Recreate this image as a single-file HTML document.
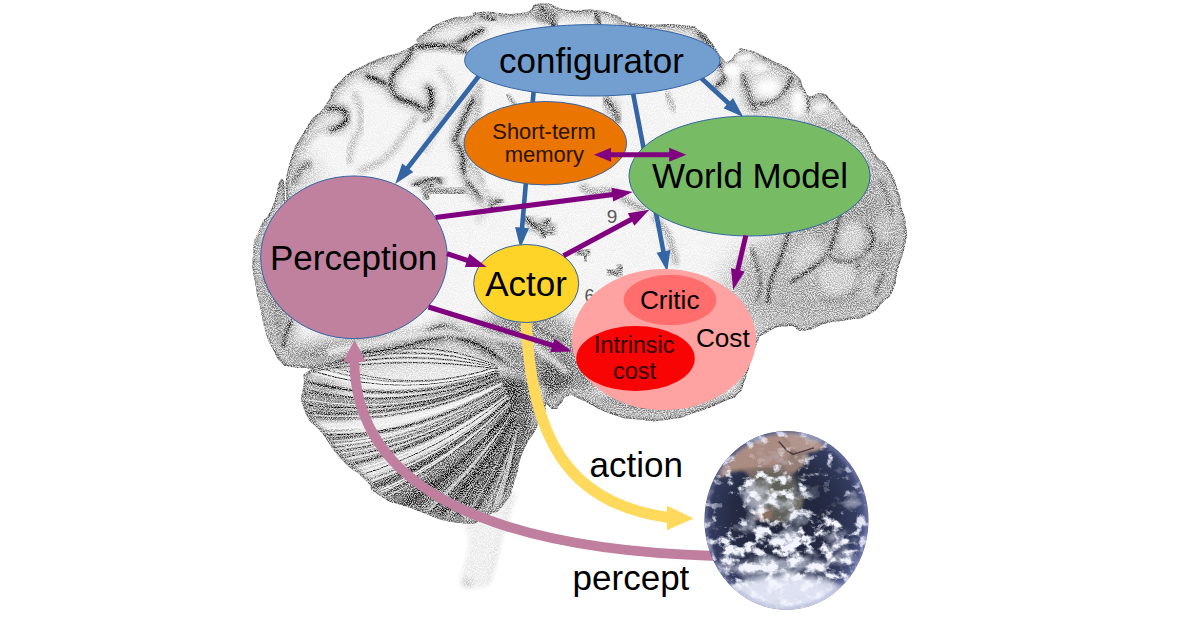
<!DOCTYPE html>
<html>
<head>
<meta charset="utf-8">
<title>Architecture</title>
<style>
html,body{margin:0;padding:0;background:#fff;}
body{width:1192px;height:627px;overflow:hidden;font-family:"Liberation Sans",sans-serif;}
svg{display:block;position:absolute;left:0;top:0;}
text{font-family:"Liberation Sans",sans-serif;}
</style>
</head>
<body>
<svg width="1192" height="627" viewBox="0 0 1192 627">
<defs>
<!--DEFS-->

<filter id="stip" x="0" y="0" width="1192" height="627" filterUnits="userSpaceOnUse" color-interpolation-filters="sRGB">
  <feColorMatrix in="SourceGraphic" type="matrix" values="0 0 0 0 0  0 0 0 0 0  0 0 0 0 0  -1 0 0 0 1" result="dk"/>
  <feTurbulence type="fractalNoise" baseFrequency="0.95" numOctaves="2" seed="7" result="n"/>
  <feColorMatrix in="n" type="matrix" values="0 0 0 0 0  0 0 0 0 0  0 0 0 0 0  3.2 0 0 0 -1.1" result="na"/>
  <feComposite in="dk" in2="na" operator="arithmetic" k1="-1.1" k2="1.45" k3="0" k4="0" result="d"/>
  <feGaussianBlur in="d" stdDeviation="0.45"/>
</filter>
<filter id="b1" x="-20%" y="-20%" width="140%" height="140%"><feGaussianBlur stdDeviation="1"/></filter>
<filter id="b2" x="-20%" y="-20%" width="140%" height="140%"><feGaussianBlur stdDeviation="2"/></filter>
<filter id="b4" x="-30%" y="-30%" width="160%" height="160%"><feGaussianBlur stdDeviation="4"/></filter>
<filter id="b8" x="-40%" y="-40%" width="180%" height="180%"><feGaussianBlur stdDeviation="8"/></filter>
<filter id="b14" x="-50%" y="-50%" width="200%" height="200%"><feGaussianBlur stdDeviation="14"/></filter>
<clipPath id="cpC"><path d="M286.0 200.0C288.5 195.7 282.1 190.1 289.0 166.0C295.9 141.9 294.3 148.0 306.6 127.7C318.9 107.4 315.2 119.9 325.8 105.0C336.4 90.1 324.8 96.7 338.5 83.0C352.2 69.3 343.6 75.7 367.0 64.0C390.4 52.3 390.5 57.7 408.7 48.0C426.9 38.3 408.7 44.3 421.5 35.0C434.3 25.7 431.0 26.3 447.0 20.0C463.0 13.7 458.2 18.7 469.4 16.0C480.6 13.3 463.5 13.0 480.7 12.0C497.9 11.0 500.9 15.9 521.0 13.0C541.1 10.1 525.3 4.4 541.0 3.4C556.7 2.4 550.1 7.8 568.0 10.0C585.9 12.2 579.1 8.3 594.8 10.0C610.5 11.7 601.6 10.5 615.0 15.0C628.4 19.5 612.7 20.2 635.0 23.5C657.3 26.8 660.3 22.5 682.0 25.0C703.7 27.5 690.3 25.3 700.0 31.0C709.7 36.7 703.7 33.0 711.0 42.0C718.3 51.0 716.0 51.7 722.0 58.0C728.0 64.3 724.0 62.7 729.0 61.0C734.0 59.3 731.3 56.8 737.0 53.0C742.7 49.2 734.7 47.2 746.0 49.5C757.3 51.8 755.0 52.2 771.0 60.0C787.0 67.8 783.0 63.5 794.0 73.0C805.0 82.5 799.0 80.8 804.0 88.5C809.0 96.2 803.0 94.3 809.0 96.0C815.0 97.7 814.3 91.9 822.0 93.6C829.7 95.3 823.5 92.5 832.0 101.0C840.5 109.5 837.2 108.0 847.5 119.0C857.8 130.0 853.6 122.0 863.0 134.0C872.4 146.0 867.3 143.8 875.6 155.0C883.9 166.2 880.3 154.8 888.0 167.5C895.7 180.2 894.3 180.3 898.6 193.0C902.9 205.7 898.5 194.5 901.0 205.5C903.5 216.5 904.8 212.5 906.0 226.0C907.2 239.5 907.4 231.7 904.7 246.0C902.0 260.3 901.9 254.3 898.0 269.0C894.1 283.7 898.0 279.0 893.0 290.0C888.0 301.0 891.4 293.7 883.0 302.0C874.6 310.3 879.7 309.0 867.7 315.0C855.7 321.0 860.6 317.3 847.0 320.0C833.4 322.7 841.3 319.5 827.0 323.0C812.7 326.5 816.8 329.5 804.0 330.5C791.2 331.5 801.4 325.2 788.7 326.0C776.0 326.8 776.9 326.3 766.0 333.0C755.1 339.7 763.0 330.3 756.0 346.0C749.0 361.7 751.0 364.0 745.0 380.0C739.0 396.0 744.7 387.0 738.0 394.0C731.3 401.0 738.8 395.0 725.0 401.0C711.2 407.0 715.7 405.8 696.7 412.0C677.7 418.2 687.0 417.0 668.0 419.5C649.0 422.0 658.7 421.4 639.7 419.5C620.7 417.6 630.9 420.5 611.0 413.7C591.1 406.9 594.3 404.9 580.0 399.0C565.7 393.1 574.7 394.3 568.0 396.0C561.3 397.7 564.7 399.7 560.0 404.0C555.3 408.3 559.7 409.0 554.0 409.0C548.3 409.0 549.7 402.3 543.0 404.0C536.3 405.7 541.7 418.0 534.0 414.0C526.3 410.0 541.3 406.0 520.0 392.0C498.7 378.0 503.3 381.0 470.0 372.0C436.7 363.0 453.3 365.0 420.0 365.0C386.7 365.0 400.0 369.7 370.0 372.0C340.0 374.3 349.5 373.1 330.0 372.0C310.5 370.9 324.5 370.3 311.5 368.6C298.5 366.9 301.2 369.1 291.0 366.8C280.8 364.5 287.0 367.6 281.0 361.7C275.0 355.8 278.2 359.2 273.0 349.0C267.8 338.8 269.8 345.5 265.5 331.0C261.2 316.5 263.2 320.0 260.0 305.5C256.8 291.0 258.3 304.1 256.0 287.5C253.7 270.9 251.7 275.5 253.0 255.7C254.3 235.9 253.7 243.9 260.0 228.0C266.3 212.1 264.8 224.3 272.0 208.0C279.2 191.7 276.8 181.7 281.5 179.0C286.2 176.3 283.5 204.3 286.0 200.0Z"/></clipPath>
<clipPath id="cpB"><path d="M311.5 369.0C298.6 377.1 305.6 371.8 303.4 386.0C301.2 400.2 298.6 395.7 305.0 411.7C311.4 427.7 310.4 418.0 322.6 434.0C334.8 450.0 327.9 444.7 341.7 459.6C355.5 474.5 351.2 466.6 364.0 478.7C376.8 490.8 364.0 485.9 380.0 495.8C396.0 505.7 385.4 499.4 412.0 508.5C438.6 517.6 435.1 520.5 459.8 523.0C484.5 525.5 470.9 522.7 486.0 516.0C501.1 509.3 495.3 515.0 505.0 503.0C514.7 491.0 509.0 497.0 515.0 480.0C521.0 463.0 515.7 469.7 523.0 452.0C530.3 434.3 529.3 443.0 537.0 427.0C544.7 411.0 545.0 419.7 546.0 404.0C547.0 388.3 555.3 394.7 540.0 380.0C524.7 365.3 526.8 373.3 500.0 360.0C473.2 346.7 481.5 346.7 459.5 340.0C437.5 333.3 451.0 338.0 434.0 340.0C417.0 342.0 425.5 342.2 408.5 346.0C391.5 349.8 398.3 348.8 383.0 351.5C367.7 354.2 376.2 350.6 362.5 354.0C348.8 357.4 359.0 356.7 342.0 361.7C325.0 366.7 324.4 360.9 311.5 369.0Z"/></clipPath>

<clipPath id="cpE"><ellipse cx="786.5" cy="520.4" rx="82" ry="89.4"/></clipPath>
<radialGradient id="gE" cx="0.47" cy="0.48" r="0.55">
  <stop offset="0" stop-color="#0f1428"/>
  <stop offset="0.55" stop-color="#161c36"/>
  <stop offset="0.82" stop-color="#262e54"/>
  <stop offset="0.95" stop-color="#4a5388"/>
  <stop offset="1" stop-color="#8088ba"/>
</radialGradient>
<filter id="cloud" x="690" y="420" width="200" height="200" filterUnits="userSpaceOnUse" color-interpolation-filters="sRGB">
  <feColorMatrix in="SourceGraphic" type="matrix" values="0 0 0 0 1  0 0 0 0 1  0 0 0 0 1  1 0 0 0 0" result="dk"/>
  <feTurbulence type="fractalNoise" baseFrequency="0.09 0.11" numOctaves="6" seed="23" result="n"/>
  <feColorMatrix in="n" type="matrix" values="0 0 0 0 0  0 0 0 0 0  0 0 0 0 0  2.2 0 0 0 -0.6" result="na"/>
  <feComposite in="dk" in2="na" operator="arithmetic" k1="0" k2="1" k3="-1" k4="0" result="d"/>
  <feColorMatrix in="d" type="matrix" values="0 0 0 0 0.95  0 0 0 0 0.96  0 0 0 0 1  0 0 0 2.0 0.0"/>
</filter>
<filter id="cloudS" x="690" y="420" width="200" height="200" filterUnits="userSpaceOnUse" color-interpolation-filters="sRGB">
  <feColorMatrix in="SourceGraphic" type="matrix" values="0 0 0 0 1  0 0 0 0 1  0 0 0 0 1  1 0 0 0 0" result="dk"/>
  <feTurbulence type="fractalNoise" baseFrequency="0.035 0.045" numOctaves="4" seed="4" result="n"/>
  <feColorMatrix in="n" type="matrix" values="0 0 0 0 0  0 0 0 0 0  0 0 0 0 0  0 2.2 0 0 -0.6" result="na"/>
  <feComposite in="dk" in2="na" operator="arithmetic" k1="0" k2="1" k3="-1" k4="0" result="d"/>
  <feColorMatrix in="d" type="matrix" values="0 0 0 0 0.82  0 0 0 0 0.84  0 0 0 0 0.9  0 0 0 1.6 0.12"/>
</filter>
<filter id="eb05" x="-30%" y="-30%" width="160%" height="160%"><feGaussianBlur stdDeviation="0.6"/></filter>
<filter id="eb1" x="-30%" y="-30%" width="160%" height="160%"><feGaussianBlur stdDeviation="1.5"/></filter>
<filter id="eb3" x="-30%" y="-30%" width="160%" height="160%"><feGaussianBlur stdDeviation="3"/></filter>
<filter id="eb6" x="-40%" y="-40%" width="180%" height="180%"><feGaussianBlur stdDeviation="6"/></filter>

<!--/DEFS-->
</defs>
<rect width="1192" height="627" fill="#fff"/>

<!--BRAIN-->
<g id="brain" filter="url(#stip)">
<rect width="1192" height="627" fill="#fff"/>
<path d="M471.0 515.0C456.5 533.7 471.8 526.0 468.5 547.0C465.2 568.0 461.8 564.3 461.0 578.0C460.2 591.7 460.3 584.8 466.0 588.0C471.7 591.2 470.3 589.2 478.0 587.5C485.7 585.8 482.8 592.2 489.0 583.0C495.2 573.8 492.3 575.3 496.5 560.0C500.7 544.7 497.4 551.5 501.6 537.0C505.8 522.5 505.5 531.8 509.0 516.5C512.5 501.2 524.7 491.5 512.0 491.0C499.3 490.5 485.5 496.3 471.0 515.0Z" fill="#eeeeee" filter="url(#b2)"/>
<path d="M510.0 495.0C509.0 502.3 510.3 502.7 507.0 517.0C503.7 531.3 504.0 523.7 500.0 538.0C496.0 552.3 499.0 545.3 495.0 560.0C491.0 574.7 490.3 574.7 488.0 582.0" fill="none" stroke="#e6e6e6" stroke-width="3" stroke-linecap="round" stroke-linejoin="round" filter="url(#b2)"/>
<ellipse cx="468" cy="582" rx="6" ry="5" fill="#dadada" filter="url(#b2)"/>
<g clip-path="url(#cpC)">
<path d="M286.0 200.0C288.5 195.7 282.1 190.1 289.0 166.0C295.9 141.9 294.3 148.0 306.6 127.7C318.9 107.4 315.2 119.9 325.8 105.0C336.4 90.1 324.8 96.7 338.5 83.0C352.2 69.3 343.6 75.7 367.0 64.0C390.4 52.3 390.5 57.7 408.7 48.0C426.9 38.3 408.7 44.3 421.5 35.0C434.3 25.7 431.0 26.3 447.0 20.0C463.0 13.7 458.2 18.7 469.4 16.0C480.6 13.3 463.5 13.0 480.7 12.0C497.9 11.0 500.9 15.9 521.0 13.0C541.1 10.1 525.3 4.4 541.0 3.4C556.7 2.4 550.1 7.8 568.0 10.0C585.9 12.2 579.1 8.3 594.8 10.0C610.5 11.7 601.6 10.5 615.0 15.0C628.4 19.5 612.7 20.2 635.0 23.5C657.3 26.8 660.3 22.5 682.0 25.0C703.7 27.5 690.3 25.3 700.0 31.0C709.7 36.7 703.7 33.0 711.0 42.0C718.3 51.0 716.0 51.7 722.0 58.0C728.0 64.3 724.0 62.7 729.0 61.0C734.0 59.3 731.3 56.8 737.0 53.0C742.7 49.2 734.7 47.2 746.0 49.5C757.3 51.8 755.0 52.2 771.0 60.0C787.0 67.8 783.0 63.5 794.0 73.0C805.0 82.5 799.0 80.8 804.0 88.5C809.0 96.2 803.0 94.3 809.0 96.0C815.0 97.7 814.3 91.9 822.0 93.6C829.7 95.3 823.5 92.5 832.0 101.0C840.5 109.5 837.2 108.0 847.5 119.0C857.8 130.0 853.6 122.0 863.0 134.0C872.4 146.0 867.3 143.8 875.6 155.0C883.9 166.2 880.3 154.8 888.0 167.5C895.7 180.2 894.3 180.3 898.6 193.0C902.9 205.7 898.5 194.5 901.0 205.5C903.5 216.5 904.8 212.5 906.0 226.0C907.2 239.5 907.4 231.7 904.7 246.0C902.0 260.3 901.9 254.3 898.0 269.0C894.1 283.7 898.0 279.0 893.0 290.0C888.0 301.0 891.4 293.7 883.0 302.0C874.6 310.3 879.7 309.0 867.7 315.0C855.7 321.0 860.6 317.3 847.0 320.0C833.4 322.7 841.3 319.5 827.0 323.0C812.7 326.5 816.8 329.5 804.0 330.5C791.2 331.5 801.4 325.2 788.7 326.0C776.0 326.8 776.9 326.3 766.0 333.0C755.1 339.7 763.0 330.3 756.0 346.0C749.0 361.7 751.0 364.0 745.0 380.0C739.0 396.0 744.7 387.0 738.0 394.0C731.3 401.0 738.8 395.0 725.0 401.0C711.2 407.0 715.7 405.8 696.7 412.0C677.7 418.2 687.0 417.0 668.0 419.5C649.0 422.0 658.7 421.4 639.7 419.5C620.7 417.6 630.9 420.5 611.0 413.7C591.1 406.9 594.3 404.9 580.0 399.0C565.7 393.1 574.7 394.3 568.0 396.0C561.3 397.7 564.7 399.7 560.0 404.0C555.3 408.3 559.7 409.0 554.0 409.0C548.3 409.0 549.7 402.3 543.0 404.0C536.3 405.7 541.7 418.0 534.0 414.0C526.3 410.0 541.3 406.0 520.0 392.0C498.7 378.0 503.3 381.0 470.0 372.0C436.7 363.0 453.3 365.0 420.0 365.0C386.7 365.0 400.0 369.7 370.0 372.0C340.0 374.3 349.5 373.1 330.0 372.0C310.5 370.9 324.5 370.3 311.5 368.6C298.5 366.9 301.2 369.1 291.0 366.8C280.8 364.5 287.0 367.6 281.0 361.7C275.0 355.8 278.2 359.2 273.0 349.0C267.8 338.8 269.8 345.5 265.5 331.0C261.2 316.5 263.2 320.0 260.0 305.5C256.8 291.0 258.3 304.1 256.0 287.5C253.7 270.9 251.7 275.5 253.0 255.7C254.3 235.9 253.7 243.9 260.0 228.0C266.3 212.1 264.8 224.3 272.0 208.0C279.2 191.7 276.8 181.7 281.5 179.0C286.2 176.3 283.5 204.3 286.0 200.0Z" fill="#f3f3f3"/>
<ellipse cx="858" cy="150" rx="50" ry="80" fill="#b5b5b5" filter="url(#b14)" transform="rotate(-25 858 150)"/>
<ellipse cx="850" cy="262" rx="70" ry="75" fill="#9e9e9e" filter="url(#b14)"/>
<ellipse cx="800" cy="290" rx="75" ry="50" fill="#afafaf" filter="url(#b14)"/>
<ellipse cx="785" cy="90" rx="45" ry="35" fill="#cfcfcf" filter="url(#b8)"/>
<ellipse cx="420" cy="380" rx="180" ry="45" fill="#939393" filter="url(#b8)"/>
<ellipse cx="525" cy="365" rx="65" ry="55" fill="#939393" filter="url(#b8)"/>
<ellipse cx="556" cy="385" rx="16" ry="28" fill="#646464" filter="url(#b4)"/>
<ellipse cx="268" cy="320" rx="26" ry="55" fill="#9a9a9a" filter="url(#b8)"/>
<ellipse cx="660" cy="410" rx="110" ry="18" fill="#9a9a9a" filter="url(#b4)"/>
<ellipse cx="300" cy="190" rx="25" ry="40" fill="#dadada" filter="url(#b8)"/>
<path d="M286.0 200.0C288.5 195.7 282.1 190.1 289.0 166.0C295.9 141.9 294.3 148.0 306.6 127.7C318.9 107.4 315.2 119.9 325.8 105.0C336.4 90.1 324.8 96.7 338.5 83.0C352.2 69.3 343.6 75.7 367.0 64.0C390.4 52.3 390.5 57.7 408.7 48.0C426.9 38.3 408.7 44.3 421.5 35.0C434.3 25.7 431.0 26.3 447.0 20.0C463.0 13.7 458.2 18.7 469.4 16.0C480.6 13.3 463.5 13.0 480.7 12.0C497.9 11.0 500.9 15.9 521.0 13.0C541.1 10.1 525.3 4.4 541.0 3.4C556.7 2.4 550.1 7.8 568.0 10.0C585.9 12.2 579.1 8.3 594.8 10.0C610.5 11.7 601.6 10.5 615.0 15.0C628.4 19.5 612.7 20.2 635.0 23.5C657.3 26.8 660.3 22.5 682.0 25.0C703.7 27.5 690.3 25.3 700.0 31.0C709.7 36.7 703.7 33.0 711.0 42.0C718.3 51.0 716.0 51.7 722.0 58.0C728.0 64.3 724.0 62.7 729.0 61.0C734.0 59.3 731.3 56.8 737.0 53.0C742.7 49.2 734.7 47.2 746.0 49.5C757.3 51.8 755.0 52.2 771.0 60.0C787.0 67.8 783.0 63.5 794.0 73.0C805.0 82.5 799.0 80.8 804.0 88.5C809.0 96.2 803.0 94.3 809.0 96.0C815.0 97.7 814.3 91.9 822.0 93.6C829.7 95.3 823.5 92.5 832.0 101.0C840.5 109.5 837.2 108.0 847.5 119.0C857.8 130.0 853.6 122.0 863.0 134.0C872.4 146.0 867.3 143.8 875.6 155.0C883.9 166.2 880.3 154.8 888.0 167.5C895.7 180.2 894.3 180.3 898.6 193.0C902.9 205.7 898.5 194.5 901.0 205.5C903.5 216.5 904.8 212.5 906.0 226.0C907.2 239.5 907.4 231.7 904.7 246.0C902.0 260.3 901.9 254.3 898.0 269.0C894.1 283.7 898.0 279.0 893.0 290.0C888.0 301.0 891.4 293.7 883.0 302.0C874.6 310.3 879.7 309.0 867.7 315.0C855.7 321.0 860.6 317.3 847.0 320.0C833.4 322.7 841.3 319.5 827.0 323.0C812.7 326.5 816.8 329.5 804.0 330.5C791.2 331.5 801.4 325.2 788.7 326.0C776.0 326.8 776.9 326.3 766.0 333.0C755.1 339.7 763.0 330.3 756.0 346.0C749.0 361.7 751.0 364.0 745.0 380.0C739.0 396.0 744.7 387.0 738.0 394.0C731.3 401.0 738.8 395.0 725.0 401.0C711.2 407.0 715.7 405.8 696.7 412.0C677.7 418.2 687.0 417.0 668.0 419.5C649.0 422.0 658.7 421.4 639.7 419.5C620.7 417.6 630.9 420.5 611.0 413.7C591.1 406.9 594.3 404.9 580.0 399.0C565.7 393.1 574.7 394.3 568.0 396.0C561.3 397.7 564.7 399.7 560.0 404.0C555.3 408.3 559.7 409.0 554.0 409.0C548.3 409.0 549.7 402.3 543.0 404.0C536.3 405.7 541.7 418.0 534.0 414.0C526.3 410.0 541.3 406.0 520.0 392.0C498.7 378.0 503.3 381.0 470.0 372.0C436.7 363.0 453.3 365.0 420.0 365.0C386.7 365.0 400.0 369.7 370.0 372.0C340.0 374.3 349.5 373.1 330.0 372.0C310.5 370.9 324.5 370.3 311.5 368.6C298.5 366.9 301.2 369.1 291.0 366.8C280.8 364.5 287.0 367.6 281.0 361.7C275.0 355.8 278.2 359.2 273.0 349.0C267.8 338.8 269.8 345.5 265.5 331.0C261.2 316.5 263.2 320.0 260.0 305.5C256.8 291.0 258.3 304.1 256.0 287.5C253.7 270.9 251.7 275.5 253.0 255.7C254.3 235.9 253.7 243.9 260.0 228.0C266.3 212.1 264.8 224.3 272.0 208.0C279.2 191.7 276.8 181.7 281.5 179.0C286.2 176.3 283.5 204.3 286.0 200.0Z" fill="none" stroke="#c0c0c0" stroke-width="16" stroke-linecap="round" stroke-linejoin="round" filter="url(#b4)"/>
<path d="M286.0 200.0C288.5 195.7 282.1 190.1 289.0 166.0C295.9 141.9 294.3 148.0 306.6 127.7C318.9 107.4 315.2 119.9 325.8 105.0C336.4 90.1 324.8 96.7 338.5 83.0C352.2 69.3 343.6 75.7 367.0 64.0C390.4 52.3 390.5 57.7 408.7 48.0C426.9 38.3 408.7 44.3 421.5 35.0C434.3 25.7 431.0 26.3 447.0 20.0C463.0 13.7 458.2 18.7 469.4 16.0C480.6 13.3 463.5 13.0 480.7 12.0C497.9 11.0 500.9 15.9 521.0 13.0C541.1 10.1 525.3 4.4 541.0 3.4C556.7 2.4 550.1 7.8 568.0 10.0C585.9 12.2 579.1 8.3 594.8 10.0C610.5 11.7 601.6 10.5 615.0 15.0C628.4 19.5 612.7 20.2 635.0 23.5C657.3 26.8 660.3 22.5 682.0 25.0C703.7 27.5 690.3 25.3 700.0 31.0C709.7 36.7 703.7 33.0 711.0 42.0C718.3 51.0 716.0 51.7 722.0 58.0C728.0 64.3 724.0 62.7 729.0 61.0C734.0 59.3 731.3 56.8 737.0 53.0C742.7 49.2 734.7 47.2 746.0 49.5C757.3 51.8 755.0 52.2 771.0 60.0C787.0 67.8 783.0 63.5 794.0 73.0C805.0 82.5 799.0 80.8 804.0 88.5C809.0 96.2 803.0 94.3 809.0 96.0C815.0 97.7 814.3 91.9 822.0 93.6C829.7 95.3 823.5 92.5 832.0 101.0C840.5 109.5 837.2 108.0 847.5 119.0C857.8 130.0 853.6 122.0 863.0 134.0C872.4 146.0 867.3 143.8 875.6 155.0C883.9 166.2 880.3 154.8 888.0 167.5C895.7 180.2 894.3 180.3 898.6 193.0C902.9 205.7 898.5 194.5 901.0 205.5C903.5 216.5 904.8 212.5 906.0 226.0C907.2 239.5 907.4 231.7 904.7 246.0C902.0 260.3 901.9 254.3 898.0 269.0C894.1 283.7 898.0 279.0 893.0 290.0C888.0 301.0 891.4 293.7 883.0 302.0C874.6 310.3 879.7 309.0 867.7 315.0C855.7 321.0 860.6 317.3 847.0 320.0C833.4 322.7 841.3 319.5 827.0 323.0C812.7 326.5 816.8 329.5 804.0 330.5C791.2 331.5 801.4 325.2 788.7 326.0C776.0 326.8 776.9 326.3 766.0 333.0C755.1 339.7 763.0 330.3 756.0 346.0C749.0 361.7 751.0 364.0 745.0 380.0C739.0 396.0 744.7 387.0 738.0 394.0C731.3 401.0 738.8 395.0 725.0 401.0C711.2 407.0 715.7 405.8 696.7 412.0C677.7 418.2 687.0 417.0 668.0 419.5C649.0 422.0 658.7 421.4 639.7 419.5C620.7 417.6 630.9 420.5 611.0 413.7C591.1 406.9 594.3 404.9 580.0 399.0C565.7 393.1 574.7 394.3 568.0 396.0C561.3 397.7 564.7 399.7 560.0 404.0C555.3 408.3 559.7 409.0 554.0 409.0C548.3 409.0 549.7 402.3 543.0 404.0C536.3 405.7 541.7 418.0 534.0 414.0C526.3 410.0 541.3 406.0 520.0 392.0C498.7 378.0 503.3 381.0 470.0 372.0C436.7 363.0 453.3 365.0 420.0 365.0C386.7 365.0 400.0 369.7 370.0 372.0C340.0 374.3 349.5 373.1 330.0 372.0C310.5 370.9 324.5 370.3 311.5 368.6C298.5 366.9 301.2 369.1 291.0 366.8C280.8 364.5 287.0 367.6 281.0 361.7C275.0 355.8 278.2 359.2 273.0 349.0C267.8 338.8 269.8 345.5 265.5 331.0C261.2 316.5 263.2 320.0 260.0 305.5C256.8 291.0 258.3 304.1 256.0 287.5C253.7 270.9 251.7 275.5 253.0 255.7C254.3 235.9 253.7 243.9 260.0 228.0C266.3 212.1 264.8 224.3 272.0 208.0C279.2 191.7 276.8 181.7 281.5 179.0C286.2 176.3 283.5 204.3 286.0 200.0Z" fill="none" stroke="#a4a4a4" stroke-width="6" stroke-linecap="round" stroke-linejoin="round" filter="url(#b2)"/>
<path d="M286.0 200.0C288.5 195.7 282.1 190.1 289.0 166.0C295.9 141.9 294.3 148.0 306.6 127.7C318.9 107.4 315.2 119.9 325.8 105.0C336.4 90.1 324.8 96.7 338.5 83.0C352.2 69.3 343.6 75.7 367.0 64.0C390.4 52.3 390.5 57.7 408.7 48.0C426.9 38.3 408.7 44.3 421.5 35.0C434.3 25.7 431.0 26.3 447.0 20.0C463.0 13.7 458.2 18.7 469.4 16.0C480.6 13.3 463.5 13.0 480.7 12.0C497.9 11.0 500.9 15.9 521.0 13.0C541.1 10.1 525.3 4.4 541.0 3.4C556.7 2.4 550.1 7.8 568.0 10.0C585.9 12.2 579.1 8.3 594.8 10.0C610.5 11.7 601.6 10.5 615.0 15.0C628.4 19.5 612.7 20.2 635.0 23.5C657.3 26.8 660.3 22.5 682.0 25.0C703.7 27.5 690.3 25.3 700.0 31.0C709.7 36.7 703.7 33.0 711.0 42.0C718.3 51.0 716.0 51.7 722.0 58.0C728.0 64.3 724.0 62.7 729.0 61.0C734.0 59.3 731.3 56.8 737.0 53.0C742.7 49.2 734.7 47.2 746.0 49.5C757.3 51.8 755.0 52.2 771.0 60.0C787.0 67.8 783.0 63.5 794.0 73.0C805.0 82.5 799.0 80.8 804.0 88.5C809.0 96.2 803.0 94.3 809.0 96.0C815.0 97.7 814.3 91.9 822.0 93.6C829.7 95.3 823.5 92.5 832.0 101.0C840.5 109.5 837.2 108.0 847.5 119.0C857.8 130.0 853.6 122.0 863.0 134.0C872.4 146.0 867.3 143.8 875.6 155.0C883.9 166.2 880.3 154.8 888.0 167.5C895.7 180.2 894.3 180.3 898.6 193.0C902.9 205.7 898.5 194.5 901.0 205.5C903.5 216.5 904.8 212.5 906.0 226.0C907.2 239.5 907.4 231.7 904.7 246.0C902.0 260.3 901.9 254.3 898.0 269.0C894.1 283.7 898.0 279.0 893.0 290.0C888.0 301.0 891.4 293.7 883.0 302.0C874.6 310.3 879.7 309.0 867.7 315.0C855.7 321.0 860.6 317.3 847.0 320.0C833.4 322.7 841.3 319.5 827.0 323.0C812.7 326.5 816.8 329.5 804.0 330.5C791.2 331.5 801.4 325.2 788.7 326.0C776.0 326.8 776.9 326.3 766.0 333.0C755.1 339.7 763.0 330.3 756.0 346.0C749.0 361.7 751.0 364.0 745.0 380.0C739.0 396.0 744.7 387.0 738.0 394.0C731.3 401.0 738.8 395.0 725.0 401.0C711.2 407.0 715.7 405.8 696.7 412.0C677.7 418.2 687.0 417.0 668.0 419.5C649.0 422.0 658.7 421.4 639.7 419.5C620.7 417.6 630.9 420.5 611.0 413.7C591.1 406.9 594.3 404.9 580.0 399.0C565.7 393.1 574.7 394.3 568.0 396.0C561.3 397.7 564.7 399.7 560.0 404.0C555.3 408.3 559.7 409.0 554.0 409.0C548.3 409.0 549.7 402.3 543.0 404.0C536.3 405.7 541.7 418.0 534.0 414.0C526.3 410.0 541.3 406.0 520.0 392.0C498.7 378.0 503.3 381.0 470.0 372.0C436.7 363.0 453.3 365.0 420.0 365.0C386.7 365.0 400.0 369.7 370.0 372.0C340.0 374.3 349.5 373.1 330.0 372.0C310.5 370.9 324.5 370.3 311.5 368.6C298.5 366.9 301.2 369.1 291.0 366.8C280.8 364.5 287.0 367.6 281.0 361.7C275.0 355.8 278.2 359.2 273.0 349.0C267.8 338.8 269.8 345.5 265.5 331.0C261.2 316.5 263.2 320.0 260.0 305.5C256.8 291.0 258.3 304.1 256.0 287.5C253.7 270.9 251.7 275.5 253.0 255.7C254.3 235.9 253.7 243.9 260.0 228.0C266.3 212.1 264.8 224.3 272.0 208.0C279.2 191.7 276.8 181.7 281.5 179.0C286.2 176.3 283.5 204.3 286.0 200.0Z" fill="none" stroke="#6c6c6c" stroke-width="2.5" stroke-linecap="round" stroke-linejoin="round" filter="url(#b1)"/>
<path d="M412.0 47.0C419.3 46.5 420.7 46.0 434.0 45.5C447.3 45.0 442.0 47.5 452.0 45.5C462.0 43.5 454.0 44.7 464.0 39.5C474.0 34.3 476.0 33.2 482.0 30.0" fill="none" stroke="#c0c0c0" stroke-width="11" stroke-linecap="round" stroke-linejoin="round" filter="url(#b4)"/>
<path d="M412.0 47.0C419.3 46.5 420.7 46.0 434.0 45.5C447.3 45.0 442.0 47.5 452.0 45.5C462.0 43.5 454.0 44.7 464.0 39.5C474.0 34.3 476.0 33.2 482.0 30.0" fill="none" stroke="#939393" stroke-width="6" stroke-linecap="round" stroke-linejoin="round" filter="url(#b2)"/>
<path d="M412.0 47.0C419.3 46.5 420.7 46.0 434.0 45.5C447.3 45.0 442.0 47.5 452.0 45.5C462.0 43.5 454.0 44.7 464.0 39.5C474.0 34.3 476.0 33.2 482.0 30.0" fill="none" stroke="#2c2c2c" stroke-width="3" stroke-linecap="round" stroke-linejoin="round" filter="url(#b1)"/>
<path d="M367.0 76.0C372.0 78.0 374.0 78.0 382.0 82.0C390.0 86.0 386.0 83.0 391.0 88.0C396.0 93.0 390.0 92.0 397.0 97.0C404.0 102.0 401.7 99.0 412.0 103.0C422.3 107.0 421.7 112.0 428.0 109.0C434.3 106.0 431.0 101.0 431.0 94.0C431.0 87.0 429.0 90.0 428.0 88.0" fill="none" stroke="#c0c0c0" stroke-width="11" stroke-linecap="round" stroke-linejoin="round" filter="url(#b4)"/>
<path d="M367.0 76.0C372.0 78.0 374.0 78.0 382.0 82.0C390.0 86.0 386.0 83.0 391.0 88.0C396.0 93.0 390.0 92.0 397.0 97.0C404.0 102.0 401.7 99.0 412.0 103.0C422.3 107.0 421.7 112.0 428.0 109.0C434.3 106.0 431.0 101.0 431.0 94.0C431.0 87.0 429.0 90.0 428.0 88.0" fill="none" stroke="#939393" stroke-width="6" stroke-linecap="round" stroke-linejoin="round" filter="url(#b2)"/>
<path d="M367.0 76.0C372.0 78.0 374.0 78.0 382.0 82.0C390.0 86.0 386.0 83.0 391.0 88.0C396.0 93.0 390.0 92.0 397.0 97.0C404.0 102.0 401.7 99.0 412.0 103.0C422.3 107.0 421.7 112.0 428.0 109.0C434.3 106.0 431.0 101.0 431.0 94.0C431.0 87.0 429.0 90.0 428.0 88.0" fill="none" stroke="#2c2c2c" stroke-width="3" stroke-linecap="round" stroke-linejoin="round" filter="url(#b1)"/>
<path d="M391.0 88.0C392.0 83.0 389.0 82.0 394.0 73.0C399.0 64.0 400.0 69.2 406.0 61.0C412.0 52.8 410.0 52.7 412.0 48.5" fill="none" stroke="#c0c0c0" stroke-width="10.5" stroke-linecap="round" stroke-linejoin="round" filter="url(#b4)"/>
<path d="M391.0 88.0C392.0 83.0 389.0 82.0 394.0 73.0C399.0 64.0 400.0 69.2 406.0 61.0C412.0 52.8 410.0 52.7 412.0 48.5" fill="none" stroke="#939393" stroke-width="5.5" stroke-linecap="round" stroke-linejoin="round" filter="url(#b2)"/>
<path d="M391.0 88.0C392.0 83.0 389.0 82.0 394.0 73.0C399.0 64.0 400.0 69.2 406.0 61.0C412.0 52.8 410.0 52.7 412.0 48.5" fill="none" stroke="#3d3d3d" stroke-width="2.5" stroke-linecap="round" stroke-linejoin="round" filter="url(#b1)"/>
<path d="M328.0 109.0C332.0 109.0 334.0 107.0 340.0 109.0C346.0 111.0 345.0 110.0 346.0 115.0C347.0 120.0 348.0 119.0 343.0 124.0C338.0 129.0 335.0 128.0 331.0 130.0" fill="none" stroke="#c0c0c0" stroke-width="11" stroke-linecap="round" stroke-linejoin="round" filter="url(#b4)"/>
<path d="M328.0 109.0C332.0 109.0 334.0 107.0 340.0 109.0C346.0 111.0 345.0 110.0 346.0 115.0C347.0 120.0 348.0 119.0 343.0 124.0C338.0 129.0 335.0 128.0 331.0 130.0" fill="none" stroke="#939393" stroke-width="6" stroke-linecap="round" stroke-linejoin="round" filter="url(#b2)"/>
<path d="M328.0 109.0C332.0 109.0 334.0 107.0 340.0 109.0C346.0 111.0 345.0 110.0 346.0 115.0C347.0 120.0 348.0 119.0 343.0 124.0C338.0 129.0 335.0 128.0 331.0 130.0" fill="none" stroke="#3d3d3d" stroke-width="3" stroke-linecap="round" stroke-linejoin="round" filter="url(#b1)"/>
<path d="M355.0 94.0C357.0 103.0 362.0 104.0 361.0 121.0C360.0 138.0 356.0 131.7 352.0 145.0C348.0 158.3 350.0 155.7 349.0 161.0" fill="none" stroke="#cacaca" stroke-width="7" stroke-linecap="round" stroke-linejoin="round" filter="url(#b2)"/>
<path d="M415.0 118.0C411.0 124.0 413.0 122.7 403.0 136.0C393.0 149.3 399.0 146.7 385.0 158.0C371.0 169.3 369.0 166.0 361.0 170.0" fill="none" stroke="#cacaca" stroke-width="7" stroke-linecap="round" stroke-linejoin="round" filter="url(#b2)"/>
<path d="M421.0 109.0C424.3 111.0 430.0 111.0 431.0 115.0C432.0 119.0 426.3 119.0 424.0 121.0" fill="none" stroke="#939393" stroke-width="4" stroke-linecap="round" stroke-linejoin="round" filter="url(#b1)"/>
<path d="M479.0 85.0C478.0 97.0 481.0 99.0 476.0 121.0C471.0 143.0 464.0 134.7 464.0 151.0C464.0 167.3 470.0 159.7 476.0 170.0C482.0 180.3 480.0 178.0 482.0 182.0" fill="none" stroke="#bababa" stroke-width="6" stroke-linecap="round" stroke-linejoin="round" filter="url(#b2)"/>
<path d="M415.0 185.0C421.3 183.0 425.7 180.0 434.0 179.0C442.3 178.0 438.0 181.0 440.0 182.0" fill="none" stroke="#c0c0c0" stroke-width="10.5" stroke-linecap="round" stroke-linejoin="round" filter="url(#b4)"/>
<path d="M415.0 185.0C421.3 183.0 425.7 180.0 434.0 179.0C442.3 178.0 438.0 181.0 440.0 182.0" fill="none" stroke="#939393" stroke-width="5.5" stroke-linecap="round" stroke-linejoin="round" filter="url(#b2)"/>
<path d="M415.0 185.0C421.3 183.0 425.7 180.0 434.0 179.0C442.3 178.0 438.0 181.0 440.0 182.0" fill="none" stroke="#3d3d3d" stroke-width="2.5" stroke-linecap="round" stroke-linejoin="round" filter="url(#b1)"/>
<path d="M294.0 182.0C296.0 178.0 295.0 176.0 300.0 170.0C305.0 164.0 306.0 166.0 309.0 164.0" fill="none" stroke="#c0c0c0" stroke-width="11" stroke-linecap="round" stroke-linejoin="round" filter="url(#b4)"/>
<path d="M294.0 182.0C296.0 178.0 295.0 176.0 300.0 170.0C305.0 164.0 306.0 166.0 309.0 164.0" fill="none" stroke="#939393" stroke-width="6" stroke-linecap="round" stroke-linejoin="round" filter="url(#b2)"/>
<path d="M294.0 182.0C296.0 178.0 295.0 176.0 300.0 170.0C305.0 164.0 306.0 166.0 309.0 164.0" fill="none" stroke="#8b8b8b" stroke-width="3" stroke-linecap="round" stroke-linejoin="round" filter="url(#b1)"/>
<path d="M300.0 150.0C306.0 144.0 308.0 139.3 318.0 132.0C328.0 124.7 326.0 129.3 330.0 128.0" fill="none" stroke="#c2c2c2" stroke-width="4" stroke-linecap="round" stroke-linejoin="round" filter="url(#b2)"/>
<path d="M440.0 70.0C444.0 78.3 452.0 78.3 452.0 95.0C452.0 111.7 449.0 101.7 440.0 120.0C431.0 138.3 430.0 140.0 425.0 150.0" fill="none" stroke="#dadada" stroke-width="8" stroke-linecap="round" stroke-linejoin="round" filter="url(#b2)"/>
<path d="M481.0 15.0C485.3 16.7 489.7 18.3 494.0 20.0" fill="none" stroke="#c0c0c0" stroke-width="11" stroke-linecap="round" stroke-linejoin="round" filter="url(#b4)"/>
<path d="M481.0 15.0C485.3 16.7 489.7 18.3 494.0 20.0" fill="none" stroke="#939393" stroke-width="6" stroke-linecap="round" stroke-linejoin="round" filter="url(#b2)"/>
<path d="M481.0 15.0C485.3 16.7 489.7 18.3 494.0 20.0" fill="none" stroke="#646464" stroke-width="3" stroke-linecap="round" stroke-linejoin="round" filter="url(#b1)"/>
<path d="M541.0 8.0C544.3 12.0 546.5 13.7 551.0 20.0C555.5 26.3 553.3 24.7 554.5 27.0" fill="none" stroke="#c0c0c0" stroke-width="11" stroke-linecap="round" stroke-linejoin="round" filter="url(#b4)"/>
<path d="M541.0 8.0C544.3 12.0 546.5 13.7 551.0 20.0C555.5 26.3 553.3 24.7 554.5 27.0" fill="none" stroke="#939393" stroke-width="6" stroke-linecap="round" stroke-linejoin="round" filter="url(#b2)"/>
<path d="M541.0 8.0C544.3 12.0 546.5 13.7 551.0 20.0C555.5 26.3 553.3 24.7 554.5 27.0" fill="none" stroke="#3d3d3d" stroke-width="3" stroke-linecap="round" stroke-linejoin="round" filter="url(#b1)"/>
<ellipse cx="546" cy="16" rx="13" ry="6" fill="#7f7f7f" filter="url(#b2)"/>
<path d="M595.0 13.0C596.7 16.7 598.3 20.3 600.0 24.0" fill="none" stroke="#c0c0c0" stroke-width="11" stroke-linecap="round" stroke-linejoin="round" filter="url(#b4)"/>
<path d="M595.0 13.0C596.7 16.7 598.3 20.3 600.0 24.0" fill="none" stroke="#939393" stroke-width="6" stroke-linecap="round" stroke-linejoin="round" filter="url(#b2)"/>
<path d="M595.0 13.0C596.7 16.7 598.3 20.3 600.0 24.0" fill="none" stroke="#505050" stroke-width="3" stroke-linecap="round" stroke-linejoin="round" filter="url(#b1)"/>
<path d="M628.0 22.0C629.3 23.7 630.7 25.3 632.0 27.0" fill="none" stroke="#c0c0c0" stroke-width="11" stroke-linecap="round" stroke-linejoin="round" filter="url(#b4)"/>
<path d="M628.0 22.0C629.3 23.7 630.7 25.3 632.0 27.0" fill="none" stroke="#939393" stroke-width="6" stroke-linecap="round" stroke-linejoin="round" filter="url(#b2)"/>
<path d="M628.0 22.0C629.3 23.7 630.7 25.3 632.0 27.0" fill="none" stroke="#8b8b8b" stroke-width="3" stroke-linecap="round" stroke-linejoin="round" filter="url(#b1)"/>
<path d="M699.0 33.5C703.3 38.0 706.3 38.8 712.0 47.0C717.7 55.2 712.0 48.7 716.0 58.0C720.0 67.3 723.7 65.7 724.0 75.0C724.3 84.3 719.3 82.3 717.0 86.0" fill="none" stroke="#c0c0c0" stroke-width="11" stroke-linecap="round" stroke-linejoin="round" filter="url(#b4)"/>
<path d="M699.0 33.5C703.3 38.0 706.3 38.8 712.0 47.0C717.7 55.2 712.0 48.7 716.0 58.0C720.0 67.3 723.7 65.7 724.0 75.0C724.3 84.3 719.3 82.3 717.0 86.0" fill="none" stroke="#939393" stroke-width="6" stroke-linecap="round" stroke-linejoin="round" filter="url(#b2)"/>
<path d="M699.0 33.5C703.3 38.0 706.3 38.8 712.0 47.0C717.7 55.2 712.0 48.7 716.0 58.0C720.0 67.3 723.7 65.7 724.0 75.0C724.3 84.3 719.3 82.3 717.0 86.0" fill="none" stroke="#505050" stroke-width="3" stroke-linecap="round" stroke-linejoin="round" filter="url(#b1)"/>
<path d="M739.5 52.8C743.0 55.3 746.5 57.8 750.0 60.3" fill="none" stroke="#c0c0c0" stroke-width="11" stroke-linecap="round" stroke-linejoin="round" filter="url(#b4)"/>
<path d="M739.5 52.8C743.0 55.3 746.5 57.8 750.0 60.3" fill="none" stroke="#939393" stroke-width="6" stroke-linecap="round" stroke-linejoin="round" filter="url(#b2)"/>
<path d="M739.5 52.8C743.0 55.3 746.5 57.8 750.0 60.3" fill="none" stroke="#8b8b8b" stroke-width="3" stroke-linecap="round" stroke-linejoin="round" filter="url(#b1)"/>
<path d="M450.0 45.0C455.0 47.3 460.0 49.7 465.0 52.0" fill="none" stroke="#c0c0c0" stroke-width="11" stroke-linecap="round" stroke-linejoin="round" filter="url(#b4)"/>
<path d="M450.0 45.0C455.0 47.3 460.0 49.7 465.0 52.0" fill="none" stroke="#939393" stroke-width="6" stroke-linecap="round" stroke-linejoin="round" filter="url(#b2)"/>
<path d="M450.0 45.0C455.0 47.3 460.0 49.7 465.0 52.0" fill="none" stroke="#646464" stroke-width="3" stroke-linecap="round" stroke-linejoin="round" filter="url(#b1)"/>
<path d="M475.0 93.0C473.3 98.7 471.7 104.3 470.0 110.0" fill="none" stroke="#b5b5b5" stroke-width="5" stroke-linecap="round" stroke-linejoin="round" filter="url(#b2)"/>
<path d="M508.0 95.6C510.5 98.9 512.9 102.3 515.4 105.6" fill="none" stroke="#a4a4a4" stroke-width="4" stroke-linecap="round" stroke-linejoin="round" filter="url(#b1)"/>
<path d="M611.0 93.0C609.3 98.7 607.7 104.3 606.0 110.0" fill="none" stroke="#b5b5b5" stroke-width="4" stroke-linecap="round" stroke-linejoin="round" filter="url(#b2)"/>
<path d="M666.5 93.0C669.0 98.7 671.5 104.3 674.0 110.0" fill="none" stroke="#a4a4a4" stroke-width="4" stroke-linecap="round" stroke-linejoin="round" filter="url(#b2)"/>
<path d="M455.0 141.0C457.6 146.1 459.4 145.3 462.8 156.3C466.2 167.3 458.6 159.5 465.3 174.0C472.0 188.5 472.8 190.4 483.0 199.7C493.2 209.0 491.7 201.2 496.0 202.0" fill="none" stroke="#c0c0c0" stroke-width="11" stroke-linecap="round" stroke-linejoin="round" filter="url(#b4)"/>
<path d="M455.0 141.0C457.6 146.1 459.4 145.3 462.8 156.3C466.2 167.3 458.6 159.5 465.3 174.0C472.0 188.5 472.8 190.4 483.0 199.7C493.2 209.0 491.7 201.2 496.0 202.0" fill="none" stroke="#939393" stroke-width="6" stroke-linecap="round" stroke-linejoin="round" filter="url(#b2)"/>
<path d="M455.0 141.0C457.6 146.1 459.4 145.3 462.8 156.3C466.2 167.3 458.6 159.5 465.3 174.0C472.0 188.5 472.8 190.4 483.0 199.7C493.2 209.0 491.7 201.2 496.0 202.0" fill="none" stroke="#444444" stroke-width="3" stroke-linecap="round" stroke-linejoin="round" filter="url(#b1)"/>
<path d="M473.0 100.0C470.4 105.2 470.4 104.4 465.3 115.5C460.2 126.6 461.1 124.9 457.7 133.4C454.3 141.9 455.9 138.5 455.0 141.0" fill="none" stroke="#c0c0c0" stroke-width="11" stroke-linecap="round" stroke-linejoin="round" filter="url(#b4)"/>
<path d="M473.0 100.0C470.4 105.2 470.4 104.4 465.3 115.5C460.2 126.6 461.1 124.9 457.7 133.4C454.3 141.9 455.9 138.5 455.0 141.0" fill="none" stroke="#939393" stroke-width="6" stroke-linecap="round" stroke-linejoin="round" filter="url(#b2)"/>
<path d="M473.0 100.0C470.4 105.2 470.4 104.4 465.3 115.5C460.2 126.6 461.1 124.9 457.7 133.4C454.3 141.9 455.9 138.5 455.0 141.0" fill="none" stroke="#505050" stroke-width="3" stroke-linecap="round" stroke-linejoin="round" filter="url(#b1)"/>
<path d="M534.0 225.0C538.3 227.7 541.0 232.1 547.0 233.0C553.0 233.9 550.3 229.5 552.0 227.8" fill="none" stroke="#c0c0c0" stroke-width="10.5" stroke-linecap="round" stroke-linejoin="round" filter="url(#b4)"/>
<path d="M534.0 225.0C538.3 227.7 541.0 232.1 547.0 233.0C553.0 233.9 550.3 229.5 552.0 227.8" fill="none" stroke="#939393" stroke-width="5.5" stroke-linecap="round" stroke-linejoin="round" filter="url(#b2)"/>
<path d="M534.0 225.0C538.3 227.7 541.0 232.1 547.0 233.0C553.0 233.9 550.3 229.5 552.0 227.8" fill="none" stroke="#8b8b8b" stroke-width="2.5" stroke-linecap="round" stroke-linejoin="round" filter="url(#b1)"/>
<path d="M606.0 100.0C608.7 103.3 610.0 103.3 614.0 110.0C618.0 116.7 616.7 116.7 618.0 120.0" fill="none" stroke="#c0c0c0" stroke-width="11" stroke-linecap="round" stroke-linejoin="round" filter="url(#b4)"/>
<path d="M606.0 100.0C608.7 103.3 610.0 103.3 614.0 110.0C618.0 116.7 616.7 116.7 618.0 120.0" fill="none" stroke="#939393" stroke-width="6" stroke-linecap="round" stroke-linejoin="round" filter="url(#b2)"/>
<path d="M606.0 100.0C608.7 103.3 610.0 103.3 614.0 110.0C618.0 116.7 616.7 116.7 618.0 120.0" fill="none" stroke="#646464" stroke-width="3" stroke-linecap="round" stroke-linejoin="round" filter="url(#b1)"/>
<path d="M582.7 187.0C586.1 188.7 582.9 190.3 593.0 192.0C603.1 193.7 601.1 188.7 613.0 192.0C624.9 195.3 618.3 196.0 628.6 202.0C638.9 208.0 638.9 207.3 644.0 210.0" fill="none" stroke="#afafaf" stroke-width="7" stroke-linecap="round" stroke-linejoin="round" filter="url(#b2)"/>
<path d="M654.0 217.6C658.3 222.7 661.0 222.9 667.0 233.0C673.0 243.1 669.0 238.3 672.0 248.0C675.0 257.7 674.7 257.3 676.0 262.0" fill="none" stroke="#afafaf" stroke-width="6" stroke-linecap="round" stroke-linejoin="round" filter="url(#b2)"/>
<path d="M486.4 200.0C483.7 198.0 484.4 200.0 478.4 194.0C472.4 188.0 471.7 186.0 468.3 182.0" fill="none" stroke="#c0c0c0" stroke-width="10.2" stroke-linecap="round" stroke-linejoin="round" filter="url(#b4)"/>
<path d="M486.4 200.0C483.7 198.0 484.4 200.0 478.4 194.0C472.4 188.0 471.7 186.0 468.3 182.0" fill="none" stroke="#939393" stroke-width="5.2" stroke-linecap="round" stroke-linejoin="round" filter="url(#b2)"/>
<path d="M486.4 200.0C483.7 198.0 484.4 200.0 478.4 194.0C472.4 188.0 471.7 186.0 468.3 182.0" fill="none" stroke="#3d3d3d" stroke-width="2.2" stroke-linecap="round" stroke-linejoin="round" filter="url(#b1)"/>
<path d="M486.4 200.0C489.8 200.7 491.8 202.0 496.5 202.0C501.2 202.0 499.2 200.7 500.5 200.0" fill="none" stroke="#c0c0c0" stroke-width="10.2" stroke-linecap="round" stroke-linejoin="round" filter="url(#b4)"/>
<path d="M486.4 200.0C489.8 200.7 491.8 202.0 496.5 202.0C501.2 202.0 499.2 200.7 500.5 200.0" fill="none" stroke="#939393" stroke-width="5.2" stroke-linecap="round" stroke-linejoin="round" filter="url(#b2)"/>
<path d="M486.4 200.0C489.8 200.7 491.8 202.0 496.5 202.0C501.2 202.0 499.2 200.7 500.5 200.0" fill="none" stroke="#3d3d3d" stroke-width="2.2" stroke-linecap="round" stroke-linejoin="round" filter="url(#b1)"/>
<path d="M486.4 200.0C488.4 202.7 490.5 205.3 492.5 208.0" fill="none" stroke="#c0c0c0" stroke-width="10.2" stroke-linecap="round" stroke-linejoin="round" filter="url(#b4)"/>
<path d="M486.4 200.0C488.4 202.7 490.5 205.3 492.5 208.0" fill="none" stroke="#939393" stroke-width="5.2" stroke-linecap="round" stroke-linejoin="round" filter="url(#b2)"/>
<path d="M486.4 200.0C488.4 202.7 490.5 205.3 492.5 208.0" fill="none" stroke="#3d3d3d" stroke-width="2.2" stroke-linecap="round" stroke-linejoin="round" filter="url(#b1)"/>
<path d="M540.8 228.4C543.5 225.7 546.2 223.0 548.9 220.3" fill="none" stroke="#c0c0c0" stroke-width="10.2" stroke-linecap="round" stroke-linejoin="round" filter="url(#b4)"/>
<path d="M540.8 228.4C543.5 225.7 546.2 223.0 548.9 220.3" fill="none" stroke="#939393" stroke-width="5.2" stroke-linecap="round" stroke-linejoin="round" filter="url(#b2)"/>
<path d="M540.8 228.4C543.5 225.7 546.2 223.0 548.9 220.3" fill="none" stroke="#3d3d3d" stroke-width="2.2" stroke-linecap="round" stroke-linejoin="round" filter="url(#b1)"/>
<path d="M540.8 228.4C538.1 227.1 537.4 227.8 532.7 224.4C528.0 221.0 528.7 220.3 526.7 218.3" fill="none" stroke="#c0c0c0" stroke-width="10.2" stroke-linecap="round" stroke-linejoin="round" filter="url(#b4)"/>
<path d="M540.8 228.4C538.1 227.1 537.4 227.8 532.7 224.4C528.0 221.0 528.7 220.3 526.7 218.3" fill="none" stroke="#939393" stroke-width="5.2" stroke-linecap="round" stroke-linejoin="round" filter="url(#b2)"/>
<path d="M540.8 228.4C538.1 227.1 537.4 227.8 532.7 224.4C528.0 221.0 528.7 220.3 526.7 218.3" fill="none" stroke="#3d3d3d" stroke-width="2.2" stroke-linecap="round" stroke-linejoin="round" filter="url(#b1)"/>
<path d="M540.8 228.4C542.1 231.1 543.5 233.7 544.8 236.4" fill="none" stroke="#c0c0c0" stroke-width="10.2" stroke-linecap="round" stroke-linejoin="round" filter="url(#b4)"/>
<path d="M540.8 228.4C542.1 231.1 543.5 233.7 544.8 236.4" fill="none" stroke="#939393" stroke-width="5.2" stroke-linecap="round" stroke-linejoin="round" filter="url(#b2)"/>
<path d="M540.8 228.4C542.1 231.1 543.5 233.7 544.8 236.4" fill="none" stroke="#3d3d3d" stroke-width="2.2" stroke-linecap="round" stroke-linejoin="round" filter="url(#b1)"/>
<path d="M585.0 254.6C586.3 253.2 587.7 251.9 589.0 250.5" fill="none" stroke="#c0c0c0" stroke-width="10" stroke-linecap="round" stroke-linejoin="round" filter="url(#b4)"/>
<path d="M585.0 254.6C586.3 253.2 587.7 251.9 589.0 250.5" fill="none" stroke="#939393" stroke-width="5" stroke-linecap="round" stroke-linejoin="round" filter="url(#b2)"/>
<path d="M585.0 254.6C586.3 253.2 587.7 251.9 589.0 250.5" fill="none" stroke="#646464" stroke-width="2" stroke-linecap="round" stroke-linejoin="round" filter="url(#b1)"/>
<path d="M585.0 254.6C582.3 253.2 579.7 251.9 577.0 250.5" fill="none" stroke="#c0c0c0" stroke-width="10" stroke-linecap="round" stroke-linejoin="round" filter="url(#b4)"/>
<path d="M585.0 254.6C582.3 253.2 579.7 251.9 577.0 250.5" fill="none" stroke="#939393" stroke-width="5" stroke-linecap="round" stroke-linejoin="round" filter="url(#b2)"/>
<path d="M585.0 254.6C582.3 253.2 579.7 251.9 577.0 250.5" fill="none" stroke="#646464" stroke-width="2" stroke-linecap="round" stroke-linejoin="round" filter="url(#b1)"/>
<path d="M585.0 254.6C585.3 256.4 585.7 258.2 586.0 260.0" fill="none" stroke="#c0c0c0" stroke-width="10" stroke-linecap="round" stroke-linejoin="round" filter="url(#b4)"/>
<path d="M585.0 254.6C585.3 256.4 585.7 258.2 586.0 260.0" fill="none" stroke="#939393" stroke-width="5" stroke-linecap="round" stroke-linejoin="round" filter="url(#b2)"/>
<path d="M585.0 254.6C585.3 256.4 585.7 258.2 586.0 260.0" fill="none" stroke="#646464" stroke-width="2" stroke-linecap="round" stroke-linejoin="round" filter="url(#b1)"/>
<path d="M617.3 274.7C618.6 272.0 620.0 269.3 621.3 266.6" fill="none" stroke="#c0c0c0" stroke-width="10" stroke-linecap="round" stroke-linejoin="round" filter="url(#b4)"/>
<path d="M617.3 274.7C618.6 272.0 620.0 269.3 621.3 266.6" fill="none" stroke="#939393" stroke-width="5" stroke-linecap="round" stroke-linejoin="round" filter="url(#b2)"/>
<path d="M617.3 274.7C618.6 272.0 620.0 269.3 621.3 266.6" fill="none" stroke="#646464" stroke-width="2" stroke-linecap="round" stroke-linejoin="round" filter="url(#b1)"/>
<path d="M617.3 274.7C614.6 273.4 612.0 272.0 609.3 270.7" fill="none" stroke="#c0c0c0" stroke-width="10" stroke-linecap="round" stroke-linejoin="round" filter="url(#b4)"/>
<path d="M617.3 274.7C614.6 273.4 612.0 272.0 609.3 270.7" fill="none" stroke="#939393" stroke-width="5" stroke-linecap="round" stroke-linejoin="round" filter="url(#b2)"/>
<path d="M617.3 274.7C614.6 273.4 612.0 272.0 609.3 270.7" fill="none" stroke="#646464" stroke-width="2" stroke-linecap="round" stroke-linejoin="round" filter="url(#b1)"/>
<path d="M424.0 192.0C426.7 189.3 429.3 186.7 432.0 184.0" fill="none" stroke="#c0c0c0" stroke-width="10" stroke-linecap="round" stroke-linejoin="round" filter="url(#b4)"/>
<path d="M424.0 192.0C426.7 189.3 429.3 186.7 432.0 184.0" fill="none" stroke="#939393" stroke-width="5" stroke-linecap="round" stroke-linejoin="round" filter="url(#b2)"/>
<path d="M424.0 192.0C426.7 189.3 429.3 186.7 432.0 184.0" fill="none" stroke="#646464" stroke-width="2" stroke-linecap="round" stroke-linejoin="round" filter="url(#b1)"/>
<path d="M424.0 192.0C425.3 194.0 426.7 196.0 428.0 198.0" fill="none" stroke="#c0c0c0" stroke-width="10" stroke-linecap="round" stroke-linejoin="round" filter="url(#b4)"/>
<path d="M424.0 192.0C425.3 194.0 426.7 196.0 428.0 198.0" fill="none" stroke="#939393" stroke-width="5" stroke-linecap="round" stroke-linejoin="round" filter="url(#b2)"/>
<path d="M424.0 192.0C425.3 194.0 426.7 196.0 428.0 198.0" fill="none" stroke="#646464" stroke-width="2" stroke-linecap="round" stroke-linejoin="round" filter="url(#b1)"/>
<path d="M468.0 174.0C474.0 182.7 482.7 184.7 486.0 200.0C489.3 215.3 480.7 213.3 478.0 220.0" fill="none" stroke="#dadada" stroke-width="7" stroke-linecap="round" stroke-linejoin="round" filter="url(#b2)"/>
<path d="M425.0 188.7C431.3 189.8 431.3 190.9 444.0 192.0C456.7 193.1 456.7 192.0 463.0 192.0" fill="none" stroke="#c0c0c0" stroke-width="10.5" stroke-linecap="round" stroke-linejoin="round" filter="url(#b4)"/>
<path d="M425.0 188.7C431.3 189.8 431.3 190.9 444.0 192.0C456.7 193.1 456.7 192.0 463.0 192.0" fill="none" stroke="#939393" stroke-width="5.5" stroke-linecap="round" stroke-linejoin="round" filter="url(#b2)"/>
<path d="M425.0 188.7C431.3 189.8 431.3 190.9 444.0 192.0C456.7 193.1 456.7 192.0 463.0 192.0" fill="none" stroke="#8b8b8b" stroke-width="2.5" stroke-linecap="round" stroke-linejoin="round" filter="url(#b1)"/>
<path d="M256.0 200.0C256.7 216.7 256.0 216.7 258.0 250.0C260.0 283.3 257.3 268.3 262.0 300.0C266.7 331.7 268.7 330.0 272.0 345.0" fill="none" stroke="#afafaf" stroke-width="10" stroke-linecap="round" stroke-linejoin="round" filter="url(#b4)"/>
<path d="M418.6 338.6C427.1 334.3 429.2 328.0 444.0 325.8C458.8 323.6 446.0 323.6 463.0 332.0C480.0 340.4 484.3 344.7 495.0 351.0" fill="none" stroke="#c0c0c0" stroke-width="10.5" stroke-linecap="round" stroke-linejoin="round" filter="url(#b4)"/>
<path d="M418.6 338.6C427.1 334.3 429.2 328.0 444.0 325.8C458.8 323.6 446.0 323.6 463.0 332.0C480.0 340.4 484.3 344.7 495.0 351.0" fill="none" stroke="#939393" stroke-width="5.5" stroke-linecap="round" stroke-linejoin="round" filter="url(#b2)"/>
<path d="M418.6 338.6C427.1 334.3 429.2 328.0 444.0 325.8C458.8 323.6 446.0 323.6 463.0 332.0C480.0 340.4 484.3 344.7 495.0 351.0" fill="none" stroke="#787878" stroke-width="2.5" stroke-linecap="round" stroke-linejoin="round" filter="url(#b1)"/>
<path d="M753.0 104.0C759.0 103.0 760.7 105.3 771.0 101.0C781.3 96.7 777.2 98.7 784.0 91.0C790.8 83.3 788.9 82.3 791.4 78.0" fill="none" stroke="#c0c0c0" stroke-width="11" stroke-linecap="round" stroke-linejoin="round" filter="url(#b4)"/>
<path d="M753.0 104.0C759.0 103.0 760.7 105.3 771.0 101.0C781.3 96.7 777.2 98.7 784.0 91.0C790.8 83.3 788.9 82.3 791.4 78.0" fill="none" stroke="#939393" stroke-width="6" stroke-linecap="round" stroke-linejoin="round" filter="url(#b2)"/>
<path d="M753.0 104.0C759.0 103.0 760.7 105.3 771.0 101.0C781.3 96.7 777.2 98.7 784.0 91.0C790.8 83.3 788.9 82.3 791.4 78.0" fill="none" stroke="#505050" stroke-width="3" stroke-linecap="round" stroke-linejoin="round" filter="url(#b1)"/>
<path d="M743.0 75.7C745.5 83.4 746.4 87.6 750.6 98.7C754.8 109.8 754.0 105.6 755.7 109.0" fill="none" stroke="#c0c0c0" stroke-width="11" stroke-linecap="round" stroke-linejoin="round" filter="url(#b4)"/>
<path d="M743.0 75.7C745.5 83.4 746.4 87.6 750.6 98.7C754.8 109.8 754.0 105.6 755.7 109.0" fill="none" stroke="#939393" stroke-width="6" stroke-linecap="round" stroke-linejoin="round" filter="url(#b2)"/>
<path d="M743.0 75.7C745.5 83.4 746.4 87.6 750.6 98.7C754.8 109.8 754.0 105.6 755.7 109.0" fill="none" stroke="#787878" stroke-width="3" stroke-linecap="round" stroke-linejoin="round" filter="url(#b1)"/>
<path d="M806.7 91.0C807.5 97.0 808.2 103.0 809.0 109.0" fill="none" stroke="#c0c0c0" stroke-width="11" stroke-linecap="round" stroke-linejoin="round" filter="url(#b4)"/>
<path d="M806.7 91.0C807.5 97.0 808.2 103.0 809.0 109.0" fill="none" stroke="#939393" stroke-width="6" stroke-linecap="round" stroke-linejoin="round" filter="url(#b2)"/>
<path d="M806.7 91.0C807.5 97.0 808.2 103.0 809.0 109.0" fill="none" stroke="#787878" stroke-width="3" stroke-linecap="round" stroke-linejoin="round" filter="url(#b1)"/>
<ellipse cx="768" cy="88" rx="14" ry="11" fill="#fdfdfd" filter="url(#b4)"/>
<ellipse cx="731" cy="70" rx="9" ry="7" fill="#fdfdfd" filter="url(#b2)"/>
<ellipse cx="798" cy="103" rx="7" ry="13" fill="#fafafa" filter="url(#b2)"/>
<ellipse cx="745" cy="58" rx="10" ry="5" fill="#f8f8f8" filter="url(#b2)"/>
<ellipse cx="822" cy="108" rx="8" ry="6" fill="#f3f3f3" filter="url(#b2)"/>
<ellipse cx="760" cy="68" rx="8" ry="5" fill="#f6f6f6" filter="url(#b2)"/>
<ellipse cx="832" cy="115" rx="10" ry="8" fill="#cfcfcf" filter="url(#b2)"/>
<ellipse cx="860" cy="150" rx="9" ry="12" fill="#c7c7c7" filter="url(#b2)" transform="rotate(-30 860 150)"/>
<ellipse cx="852" cy="238" rx="13" ry="17" fill="#cfcfcf" filter="url(#b2)" transform="rotate(15 852 238)"/>
<ellipse cx="837" cy="278" rx="18" ry="17" fill="#cfcfcf" filter="url(#b2)"/>
<ellipse cx="885" cy="228" rx="10" ry="14" fill="#c0c0c0" filter="url(#b2)"/>
<ellipse cx="808" cy="258" rx="15" ry="22" fill="#cfcfcf" filter="url(#b4)" transform="rotate(20 808 258)"/>
<ellipse cx="870" cy="285" rx="10" ry="14" fill="#c0c0c0" filter="url(#b2)" transform="rotate(20 870 285)"/>
<path d="M788.7 233.6C786.1 241.2 787.0 240.4 781.0 256.5C775.0 272.6 775.1 266.7 770.8 282.0C766.5 297.3 768.9 295.7 768.0 302.5" fill="none" stroke="#c0c0c0" stroke-width="10.5" stroke-linecap="round" stroke-linejoin="round" filter="url(#b4)"/>
<path d="M788.7 233.6C786.1 241.2 787.0 240.4 781.0 256.5C775.0 272.6 775.1 266.7 770.8 282.0C766.5 297.3 768.9 295.7 768.0 302.5" fill="none" stroke="#939393" stroke-width="5.5" stroke-linecap="round" stroke-linejoin="round" filter="url(#b2)"/>
<path d="M788.7 233.6C786.1 241.2 787.0 240.4 781.0 256.5C775.0 272.6 775.1 266.7 770.8 282.0C766.5 297.3 768.9 295.7 768.0 302.5" fill="none" stroke="#505050" stroke-width="2.5" stroke-linecap="round" stroke-linejoin="round" filter="url(#b1)"/>
<path d="M839.7 215.7C837.1 225.1 836.2 231.0 832.0 243.8C827.8 256.6 833.0 246.4 827.0 254.0C821.0 261.6 826.0 257.4 814.0 266.7C802.0 276.0 798.7 276.9 791.0 282.0" fill="none" stroke="#c0c0c0" stroke-width="10.5" stroke-linecap="round" stroke-linejoin="round" filter="url(#b4)"/>
<path d="M839.7 215.7C837.1 225.1 836.2 231.0 832.0 243.8C827.8 256.6 833.0 246.4 827.0 254.0C821.0 261.6 826.0 257.4 814.0 266.7C802.0 276.0 798.7 276.9 791.0 282.0" fill="none" stroke="#939393" stroke-width="5.5" stroke-linecap="round" stroke-linejoin="round" filter="url(#b2)"/>
<path d="M839.7 215.7C837.1 225.1 836.2 231.0 832.0 243.8C827.8 256.6 833.0 246.4 827.0 254.0C821.0 261.6 826.0 257.4 814.0 266.7C802.0 276.0 798.7 276.9 791.0 282.0" fill="none" stroke="#505050" stroke-width="2.5" stroke-linecap="round" stroke-linejoin="round" filter="url(#b1)"/>
<path d="M867.7 226.0C869.5 231.0 874.7 230.8 873.0 241.0C871.3 251.2 867.8 247.9 862.7 256.5C857.6 265.1 859.3 263.3 857.6 266.7" fill="none" stroke="#c0c0c0" stroke-width="10.5" stroke-linecap="round" stroke-linejoin="round" filter="url(#b4)"/>
<path d="M867.7 226.0C869.5 231.0 874.7 230.8 873.0 241.0C871.3 251.2 867.8 247.9 862.7 256.5C857.6 265.1 859.3 263.3 857.6 266.7" fill="none" stroke="#939393" stroke-width="5.5" stroke-linecap="round" stroke-linejoin="round" filter="url(#b2)"/>
<path d="M867.7 226.0C869.5 231.0 874.7 230.8 873.0 241.0C871.3 251.2 867.8 247.9 862.7 256.5C857.6 265.1 859.3 263.3 857.6 266.7" fill="none" stroke="#505050" stroke-width="2.5" stroke-linecap="round" stroke-linejoin="round" filter="url(#b1)"/>
<path d="M883.0 274.0C880.3 281.0 877.7 288.0 875.0 295.0" fill="none" stroke="#c0c0c0" stroke-width="10.5" stroke-linecap="round" stroke-linejoin="round" filter="url(#b4)"/>
<path d="M883.0 274.0C880.3 281.0 877.7 288.0 875.0 295.0" fill="none" stroke="#939393" stroke-width="5.5" stroke-linecap="round" stroke-linejoin="round" filter="url(#b2)"/>
<path d="M883.0 274.0C880.3 281.0 877.7 288.0 875.0 295.0" fill="none" stroke="#787878" stroke-width="2.5" stroke-linecap="round" stroke-linejoin="round" filter="url(#b1)"/>
<path d="M827.0 254.0C833.0 256.7 833.3 261.3 845.0 262.0C856.7 262.7 856.3 258.0 862.0 256.0" fill="none" stroke="#c0c0c0" stroke-width="10.5" stroke-linecap="round" stroke-linejoin="round" filter="url(#b4)"/>
<path d="M827.0 254.0C833.0 256.7 833.3 261.3 845.0 262.0C856.7 262.7 856.3 258.0 862.0 256.0" fill="none" stroke="#939393" stroke-width="5.5" stroke-linecap="round" stroke-linejoin="round" filter="url(#b2)"/>
<path d="M827.0 254.0C833.0 256.7 833.3 261.3 845.0 262.0C856.7 262.7 856.3 258.0 862.0 256.0" fill="none" stroke="#787878" stroke-width="2.5" stroke-linecap="round" stroke-linejoin="round" filter="url(#b1)"/>
<path d="M822.0 300.0C828.0 300.0 828.0 303.3 840.0 300.0C852.0 296.7 852.0 293.3 858.0 290.0" fill="none" stroke="#c0c0c0" stroke-width="10.5" stroke-linecap="round" stroke-linejoin="round" filter="url(#b4)"/>
<path d="M822.0 300.0C828.0 300.0 828.0 303.3 840.0 300.0C852.0 296.7 852.0 293.3 858.0 290.0" fill="none" stroke="#939393" stroke-width="5.5" stroke-linecap="round" stroke-linejoin="round" filter="url(#b2)"/>
<path d="M822.0 300.0C828.0 300.0 828.0 303.3 840.0 300.0C852.0 296.7 852.0 293.3 858.0 290.0" fill="none" stroke="#9e9e9e" stroke-width="2.5" stroke-linecap="round" stroke-linejoin="round" filter="url(#b1)"/>
<path d="M752.0 250.0C754.7 260.0 758.3 263.3 760.0 280.0C761.7 296.7 758.0 293.3 757.0 300.0" fill="none" stroke="#c0c0c0" stroke-width="10.5" stroke-linecap="round" stroke-linejoin="round" filter="url(#b4)"/>
<path d="M752.0 250.0C754.7 260.0 758.3 263.3 760.0 280.0C761.7 296.7 758.0 293.3 757.0 300.0" fill="none" stroke="#939393" stroke-width="5.5" stroke-linecap="round" stroke-linejoin="round" filter="url(#b2)"/>
<path d="M752.0 250.0C754.7 260.0 758.3 263.3 760.0 280.0C761.7 296.7 758.0 293.3 757.0 300.0" fill="none" stroke="#787878" stroke-width="2.5" stroke-linecap="round" stroke-linejoin="round" filter="url(#b1)"/>
<path d="M880.0 180.0C882.7 186.7 884.0 188.3 888.0 200.0C892.0 211.7 890.7 210.0 892.0 215.0" fill="none" stroke="#c0c0c0" stroke-width="10.5" stroke-linecap="round" stroke-linejoin="round" filter="url(#b4)"/>
<path d="M880.0 180.0C882.7 186.7 884.0 188.3 888.0 200.0C892.0 211.7 890.7 210.0 892.0 215.0" fill="none" stroke="#939393" stroke-width="5.5" stroke-linecap="round" stroke-linejoin="round" filter="url(#b2)"/>
<path d="M880.0 180.0C882.7 186.7 884.0 188.3 888.0 200.0C892.0 211.7 890.7 210.0 892.0 215.0" fill="none" stroke="#8b8b8b" stroke-width="2.5" stroke-linecap="round" stroke-linejoin="round" filter="url(#b1)"/>
<path d="M330.0 352.0C346.7 348.7 350.0 347.7 380.0 342.0C410.0 336.3 390.0 337.0 420.0 335.0C450.0 333.0 453.3 335.7 470.0 336.0" fill="none" stroke="#e6e6e6" stroke-width="7" stroke-linecap="round" stroke-linejoin="round" filter="url(#b2)"/>
<path d="M311.5 369.0C321.7 366.6 325.0 366.7 342.0 361.7C359.0 356.7 348.8 357.4 362.5 354.0C376.2 350.6 367.7 354.2 383.0 351.5C398.3 348.8 391.5 349.8 408.5 346.0C425.5 342.2 417.0 342.0 434.0 340.0C451.0 338.0 444.2 338.0 459.5 340.0C474.8 342.0 466.5 339.3 480.0 346.0C493.5 352.7 486.7 348.7 500.0 360.0C513.3 371.3 509.3 366.0 520.0 380.0C530.7 394.0 528.0 394.7 532.0 402.0" fill="none" stroke="#c0c0c0" stroke-width="11" stroke-linecap="round" stroke-linejoin="round" filter="url(#b4)"/>
<path d="M311.5 369.0C321.7 366.6 325.0 366.7 342.0 361.7C359.0 356.7 348.8 357.4 362.5 354.0C376.2 350.6 367.7 354.2 383.0 351.5C398.3 348.8 391.5 349.8 408.5 346.0C425.5 342.2 417.0 342.0 434.0 340.0C451.0 338.0 444.2 338.0 459.5 340.0C474.8 342.0 466.5 339.3 480.0 346.0C493.5 352.7 486.7 348.7 500.0 360.0C513.3 371.3 509.3 366.0 520.0 380.0C530.7 394.0 528.0 394.7 532.0 402.0" fill="none" stroke="#939393" stroke-width="6" stroke-linecap="round" stroke-linejoin="round" filter="url(#b2)"/>
<path d="M311.5 369.0C321.7 366.6 325.0 366.7 342.0 361.7C359.0 356.7 348.8 357.4 362.5 354.0C376.2 350.6 367.7 354.2 383.0 351.5C398.3 348.8 391.5 349.8 408.5 346.0C425.5 342.2 417.0 342.0 434.0 340.0C451.0 338.0 444.2 338.0 459.5 340.0C474.8 342.0 466.5 339.3 480.0 346.0C493.5 352.7 486.7 348.7 500.0 360.0C513.3 371.3 509.3 366.0 520.0 380.0C530.7 394.0 528.0 394.7 532.0 402.0" fill="none" stroke="#2c2c2c" stroke-width="3" stroke-linecap="round" stroke-linejoin="round" filter="url(#b1)"/>
<path d="M291.0 321.0C289.3 325.3 288.5 325.7 286.0 334.0C283.5 342.3 284.3 342.0 283.4 346.0" fill="none" stroke="#c0c0c0" stroke-width="10.5" stroke-linecap="round" stroke-linejoin="round" filter="url(#b4)"/>
<path d="M291.0 321.0C289.3 325.3 288.5 325.7 286.0 334.0C283.5 342.3 284.3 342.0 283.4 346.0" fill="none" stroke="#939393" stroke-width="5.5" stroke-linecap="round" stroke-linejoin="round" filter="url(#b2)"/>
<path d="M291.0 321.0C289.3 325.3 288.5 325.7 286.0 334.0C283.5 342.3 284.3 342.0 283.4 346.0" fill="none" stroke="#505050" stroke-width="2.5" stroke-linecap="round" stroke-linejoin="round" filter="url(#b1)"/>
<path d="M534.0 325.7C540.7 329.5 543.5 332.2 554.0 337.0C564.5 341.8 561.7 339.0 565.5 340.0" fill="none" stroke="#c0c0c0" stroke-width="10.5" stroke-linecap="round" stroke-linejoin="round" filter="url(#b4)"/>
<path d="M534.0 325.7C540.7 329.5 543.5 332.2 554.0 337.0C564.5 341.8 561.7 339.0 565.5 340.0" fill="none" stroke="#939393" stroke-width="5.5" stroke-linecap="round" stroke-linejoin="round" filter="url(#b2)"/>
<path d="M534.0 325.7C540.7 329.5 543.5 332.2 554.0 337.0C564.5 341.8 561.7 339.0 565.5 340.0" fill="none" stroke="#787878" stroke-width="2.5" stroke-linecap="round" stroke-linejoin="round" filter="url(#b1)"/>
<path d="M440.0 317.0C449.5 320.8 449.5 321.8 468.5 328.5C487.5 335.2 478.0 332.2 497.0 337.0C516.0 341.8 508.5 336.1 525.6 342.8C542.7 349.5 535.1 347.5 548.4 357.0C561.7 366.5 559.8 366.5 565.5 371.3" fill="none" stroke="#dadada" stroke-width="6" stroke-linecap="round" stroke-linejoin="round" filter="url(#b2)"/>
</g>
<g clip-path="url(#cpB)">
<path d="M311.5 369.0C298.6 377.1 305.6 371.8 303.4 386.0C301.2 400.2 298.6 395.7 305.0 411.7C311.4 427.7 310.4 418.0 322.6 434.0C334.8 450.0 327.9 444.7 341.7 459.6C355.5 474.5 351.2 466.6 364.0 478.7C376.8 490.8 364.0 485.9 380.0 495.8C396.0 505.7 385.4 499.4 412.0 508.5C438.6 517.6 435.1 520.5 459.8 523.0C484.5 525.5 470.9 522.7 486.0 516.0C501.1 509.3 495.3 515.0 505.0 503.0C514.7 491.0 509.0 497.0 515.0 480.0C521.0 463.0 515.7 469.7 523.0 452.0C530.3 434.3 529.3 443.0 537.0 427.0C544.7 411.0 545.0 419.7 546.0 404.0C547.0 388.3 555.3 394.7 540.0 380.0C524.7 365.3 526.8 373.3 500.0 360.0C473.2 346.7 481.5 346.7 459.5 340.0C437.5 333.3 451.0 338.0 434.0 340.0C417.0 342.0 425.5 342.2 408.5 346.0C391.5 349.8 398.3 348.8 383.0 351.5C367.7 354.2 376.2 350.6 362.5 354.0C348.8 357.4 359.0 356.7 342.0 361.7C325.0 366.7 324.4 360.9 311.5 369.0Z" fill="#c5c5c5"/>
<ellipse cx="410" cy="385" rx="80" ry="25" fill="#e6e6e6" filter="url(#b8)" transform="rotate(-8 410 385)"/>
<ellipse cx="380" cy="430" rx="45" ry="22" fill="#e6e6e6" filter="url(#b8)" transform="rotate(-25 380 430)"/>
<ellipse cx="445" cy="485" rx="70" ry="32" fill="#6c6c6c" filter="url(#b8)" transform="rotate(-20 445 485)"/>
<ellipse cx="330" cy="420" rx="18" ry="40" fill="#a1a1a1" filter="url(#b8)" transform="rotate(-20 330 420)"/>
<ellipse cx="512" cy="430" rx="20" ry="55" fill="#6c6c6c" filter="url(#b4)" transform="rotate(10 512 430)"/>
<ellipse cx="505" cy="395" rx="14" ry="18" fill="#444444" filter="url(#b4)"/>
<path d="M498.4 369.8Q407.1 401.1 315.6 370.2" fill="none" stroke="#eeeeee" stroke-width="7" filter="url(#b2)"/>
<path d="M501.2 376.5Q406.1 418.0 304.4 396.9" fill="none" stroke="#939393" stroke-width="7" filter="url(#b2)"/>
<path d="M501.6 382.6Q414.5 430.7 315.2 424.6" fill="none" stroke="#f3f3f3" stroke-width="7" filter="url(#b2)"/>
<path d="M505.4 391.2Q428.2 440.8 337.3 453.7" fill="none" stroke="#939393" stroke-width="7" filter="url(#b2)"/>
<path d="M507.3 396.6Q441.9 451.4 359.9 475.2" fill="none" stroke="#eeeeee" stroke-width="7" filter="url(#b2)"/>
<path d="M510.1 403.8Q456.3 461.2 387.2 498.6" fill="none" stroke="#8b8b8b" stroke-width="7" filter="url(#b2)"/>
<path d="M512.1 413.4Q474.3 469.3 421.5 511.0" fill="none" stroke="#b5b5b5" stroke-width="7" filter="url(#b2)"/>
<path d="M514.4 420.9Q490.2 473.2 456.8 520.2" fill="none" stroke="#6c6c6c" stroke-width="7" filter="url(#b2)"/>
<path d="M517.6 426.3Q504.3 469.5 486.1 510.9" fill="none" stroke="#939393" stroke-width="7" filter="url(#b2)"/>
<path d="M497.9 366.1Q412.6 396.2 327.6 365.0" fill="none" stroke="#6a6a6a" stroke-width="0.9947263326477775"/>
<path d="M498.3 367.5Q411.5 397.7 325.2 366.1" fill="none" stroke="#ececec" stroke-width="0.9228677087202757"/>
<path d="M497.0 367.3Q408.9 396.1 320.4 368.1" fill="none" stroke="#5c5c5c" stroke-width="0.7497868171389236"/>
<path d="M497.6 368.4Q407.9 399.6 318.0 369.2" fill="none" stroke="#f8f8f8" stroke-width="1.2067605497286147"/>
<path d="M498.5 368.4Q407.4 401.2 315.6 370.2" fill="none" stroke="#f3f3f3" stroke-width="1.0887310317421184"/>
<path d="M497.3 370.5Q405.4 400.0 313.2 371.2" fill="none" stroke="#373737" stroke-width="0.9534642668164388"/>
<path d="M497.8 371.3Q404.7 400.6 311.2 372.6" fill="none" stroke="#f8f8f8" stroke-width="0.828036271219365"/>
<path d="M499.8 371.9Q404.6 408.2 306.2 381.8" fill="none" stroke="#5c5c5c" stroke-width="0.857410546207936"/>
<path d="M499.5 374.5Q404.1 413.5 304.1 389.1" fill="none" stroke="#272727" stroke-width="0.7273539592515306"/>
<path d="M499.6 374.5Q404.4 411.1 304.2 391.7" fill="none" stroke="#282828" stroke-width="0.8635432111294716"/>
<path d="M501.1 374.8Q405.4 411.9 304.3 394.3" fill="none" stroke="#717171" stroke-width="0.9067523762046625"/>
<path d="M500.7 377.2Q405.9 417.1 304.5 399.5" fill="none" stroke="#f2f2f2" stroke-width="0.9424019623125724"/>
<path d="M499.8 377.1Q406.1 419.8 304.6 402.1" fill="none" stroke="#7a7a7a" stroke-width="0.9748208045325972"/>
<path d="M501.1 378.2Q406.5 418.2 304.7 404.7" fill="none" stroke="#393939" stroke-width="0.9849395687865696"/>
<path d="M500.7 378.1Q407.3 423.3 304.8 407.3" fill="none" stroke="#717171" stroke-width="0.9534201691016089"/>
<path d="M501.6 379.4Q409.2 423.8 307.1 414.4" fill="none" stroke="#f0f0f0" stroke-width="1.2377030118601124"/>
<path d="M502.7 380.7Q410.7 425.6 308.8 416.5" fill="none" stroke="#5a5a5a" stroke-width="0.9965163101220544"/>
<path d="M502.6 381.7Q411.4 426.0 310.4 418.5" fill="none" stroke="#777777" stroke-width="0.7816930402409558"/>
<path d="M502.3 383.0Q414.1 428.1 315.2 424.6" fill="none" stroke="#ececec" stroke-width="1.2557832418636936"/>
<path d="M502.3 384.1Q415.4 430.8 316.8 426.7" fill="none" stroke="#eaeaea" stroke-width="1.2145297738134202"/>
<path d="M502.4 384.1Q416.3 430.6 318.5 428.7" fill="none" stroke="#f8f8f8" stroke-width="1.1281945352571472"/>
<path d="M503.6 385.3Q419.2 434.2 321.7 432.8" fill="none" stroke="#eaeaea" stroke-width="1.0087307048166199"/>
<path d="M503.8 386.4Q420.3 435.9 323.3 434.9" fill="none" stroke="#2f2f2f" stroke-width="0.9609733757383483"/>
<path d="M504.3 386.8Q421.0 434.7 324.8 437.0" fill="none" stroke="#efefef" stroke-width="0.8997035705983036"/>
<path d="M503.2 387.1Q421.5 435.8 326.4 439.1" fill="none" stroke="#ebebeb" stroke-width="1.2382120553402602"/>
<path d="M504.6 387.3Q423.3 437.3 328.0 441.2" fill="none" stroke="#f1f1f1" stroke-width="1.1742422560745827"/>
<path d="M504.5 387.1Q424.2 437.7 329.5 443.3" fill="none" stroke="#707070" stroke-width="0.8323205246569331"/>
<path d="M503.8 387.3Q424.1 436.0 331.1 445.4" fill="none" stroke="#f8f8f8" stroke-width="1.0829513027359243"/>
<path d="M503.7 388.7Q425.1 438.4 332.6 447.4" fill="none" stroke="#6d6d6d" stroke-width="0.7580080305374877"/>
<path d="M505.6 388.3Q427.1 439.2 334.2 449.5" fill="none" stroke="#eeeeee" stroke-width="0.9427078457982029"/>
<path d="M505.6 389.6Q427.4 439.0 335.8 451.6" fill="none" stroke="#575757" stroke-width="0.7345223315556094"/>
<path d="M504.8 390.6Q429.2 443.8 337.3 453.7" fill="none" stroke="#f7f7f7" stroke-width="1.1271325179009781"/>
<path d="M505.2 390.8Q430.8 443.8 340.4 457.9" fill="none" stroke="#323232" stroke-width="0.8926889625304617"/>
<path d="M505.9 391.8Q432.5 446.2 342.1 459.9" fill="none" stroke="#e6e6e6" stroke-width="1.3807981511934833"/>
<path d="M506.1 391.9Q433.2 445.7 344.1 461.6" fill="none" stroke="#757575" stroke-width="0.8697436040263089"/>
<path d="M505.8 394.7Q434.5 446.9 348.0 465.0" fill="none" stroke="#555555" stroke-width="0.7679007593395044"/>
<path d="M506.8 395.2Q438.1 448.5 354.0 470.1" fill="none" stroke="#f5f5f5" stroke-width="1.3885883374548078"/>
<path d="M506.4 396.7Q440.1 450.6 357.9 473.5" fill="none" stroke="#f4f4f4" stroke-width="1.086161419855542"/>
<path d="M506.4 397.1Q440.8 450.6 359.9 475.2" fill="none" stroke="#353535" stroke-width="0.94804159118024"/>
<path d="M508.9 398.3Q445.8 454.2 365.7 480.5" fill="none" stroke="#656565" stroke-width="0.7464296968015796"/>
<path d="M508.6 398.5Q446.9 455.4 367.4 482.4" fill="none" stroke="#ededed" stroke-width="1.1623122344046524"/>
<path d="M507.9 399.9Q446.8 455.6 369.2 484.3" fill="none" stroke="#4b4b4b" stroke-width="0.8008364937012751"/>
<path d="M507.5 399.9Q447.6 456.1 371.0 486.2" fill="none" stroke="#383838" stroke-width="0.8772414091210357"/>
<path d="M508.9 402.2Q451.5 460.1 376.4 491.9" fill="none" stroke="#f8f8f8" stroke-width="1.267029598985006"/>
<path d="M509.0 402.4Q452.8 461.3 378.1 493.8" fill="none" stroke="#f0f0f0" stroke-width="1.3470291875654476"/>
<path d="M508.5 403.8Q453.0 462.1 379.9 495.7" fill="none" stroke="#626262" stroke-width="0.9490070620734916"/>
<path d="M510.4 403.0Q454.7 461.3 382.3 496.7" fill="none" stroke="#636363" stroke-width="0.9342187467346705"/>
<path d="M509.1 404.4Q455.9 463.0 384.7 497.7" fill="none" stroke="#f0f0f0" stroke-width="0.9984422037211571"/>
<path d="M510.5 405.2Q456.0 461.3 387.2 498.6" fill="none" stroke="#696969" stroke-width="0.9458781207021986"/>
<path d="M511.2 408.5Q463.5 465.7 399.3 503.5" fill="none" stroke="#2f2f2f" stroke-width="0.765769632789244"/>
<path d="M510.3 408.4Q463.6 464.9 401.7 504.4" fill="none" stroke="#626262" stroke-width="0.9753993476285869"/>
<path d="M510.5 408.5Q464.0 464.3 404.1 505.4" fill="none" stroke="#424242" stroke-width="0.7130688657362261"/>
<path d="M512.2 408.5Q466.9 465.5 406.6 506.3" fill="none" stroke="#464646" stroke-width="0.9227012874153193"/>
<path d="M512.5 409.6Q467.2 465.3 409.0 507.3" fill="none" stroke="#444444" stroke-width="0.8468739286513691"/>
<path d="M512.8 411.0Q471.0 467.7 413.9 509.0" fill="none" stroke="#414141" stroke-width="0.8517532310416621"/>
<path d="M512.7 411.5Q470.9 466.8 416.4 509.7" fill="none" stroke="#494949" stroke-width="0.7762570772303817"/>
<path d="M511.7 412.5Q472.8 468.5 418.9 510.4" fill="none" stroke="#5b5b5b" stroke-width="0.9210258678843907"/>
<path d="M511.8 412.8Q473.0 467.8 421.5 511.0" fill="none" stroke="#3e3e3e" stroke-width="0.7273534823880752"/>
<path d="M512.0 414.1Q474.9 468.2 426.5 512.4" fill="none" stroke="#dbdbdb" stroke-width="1.2778781497360878"/>
<path d="M512.5 413.5Q478.6 469.9 429.0 513.1" fill="none" stroke="#262626" stroke-width="0.9043337668353475"/>
<path d="M513.1 415.6Q481.5 470.4 436.6 515.1" fill="none" stroke="#424242" stroke-width="0.8062894787694898"/>
<path d="M514.5 416.8Q483.7 471.6 439.1 515.8" fill="none" stroke="#595959" stroke-width="0.7409276211024579"/>
<path d="M514.2 417.2Q484.6 471.7 441.6 516.4" fill="none" stroke="#2f2f2f" stroke-width="0.8552473642744509"/>
<path d="M513.6 416.7Q485.9 471.7 444.2 517.0" fill="none" stroke="#767676" stroke-width="0.709949677108992"/>
<path d="M514.3 418.9Q486.7 472.5 446.7 517.7" fill="none" stroke="#cbcbcb" stroke-width="0.8002637792840049"/>
<path d="M513.9 418.0Q487.1 471.7 449.2 518.3" fill="none" stroke="#515151" stroke-width="0.7299245346894903"/>
<path d="M514.3 418.8Q487.9 471.9 451.7 519.0" fill="none" stroke="#2c2c2c" stroke-width="0.7456341755808809"/>
<path d="M514.0 420.6Q489.4 473.3 454.3 519.6" fill="none" stroke="#686868" stroke-width="0.8446107780106922"/>
<path d="M516.0 421.6Q495.5 473.3 464.2 519.4" fill="none" stroke="#c4c4c4" stroke-width="0.8707479735554012"/>
<path d="M515.5 422.3Q496.7 472.1 469.1 517.6" fill="none" stroke="#6c6c6c" stroke-width="0.7074790974886419"/>
<path d="M516.0 424.7Q499.7 472.4 474.0 515.7" fill="none" stroke="#616161" stroke-width="0.8404110856982917"/>
<path d="M517.5 425.1Q500.9 471.8 476.5 514.8" fill="none" stroke="#686868" stroke-width="0.901655915101101"/>
<path d="M516.8 425.0Q503.0 470.6 481.4 513.0" fill="none" stroke="#797979" stroke-width="0.9337789945632082"/>
<path d="M516.5 427.8Q504.6 470.6 486.1 510.9" fill="none" stroke="#dadada" stroke-width="0.8562887968862177"/>
<path d="M517.5 427.2Q506.5 468.4 490.3 507.8" fill="none" stroke="#676767" stroke-width="0.7151373226137862"/>
<path d="M517.0 429.6Q506.9 468.7 492.4 506.3" fill="none" stroke="#616161" stroke-width="0.7154023614713945"/>
<path d="M517.2 428.9Q507.9 467.4 494.5 504.7" fill="none" stroke="#d8d8d8" stroke-width="1.1187854509073043"/>
<path d="M519.0 429.2Q509.5 466.7 496.6 503.2" fill="none" stroke="#c5c5c5" stroke-width="1.1589719060452484"/>
<path d="M518.2 430.6Q511.2 466.9 498.7 501.6" fill="none" stroke="#d5d5d5" stroke-width="1.1428532232409117"/>
<path d="M518.3 430.7Q512.4 465.0 502.9 498.5" fill="none" stroke="#535353" stroke-width="0.9479247175149967"/>
<path d="M518.6 431.3Q513.1 464.4 505.0 497.0" fill="none" stroke="#353535" stroke-width="0.945831303453291"/>
<path d="M498 366.0Q415 331 328.0 364.0" fill="none" stroke="#444444" stroke-width="1"/>
<path d="M498 366.5Q413 335 325.5 365.2" fill="none" stroke="#f3f3f3" stroke-width="1"/>
<path d="M498 367.0Q411 339 323.0 366.4" fill="none" stroke="#444444" stroke-width="1"/>
<path d="M498 367.5Q409 343 320.5 367.6" fill="none" stroke="#f3f3f3" stroke-width="1"/>
<path d="M498 368.0Q407 347 318.0 368.8" fill="none" stroke="#444444" stroke-width="1"/>
<path d="M498 368.5Q405 351 315.5 370.0" fill="none" stroke="#f3f3f3" stroke-width="1"/>
<path d="M498 369.0Q403 355 313.0 371.2" fill="none" stroke="#444444" stroke-width="1"/>
<path d="M498.7 371.8Q404.0 406.5 306.2 381.8" fill="none" stroke="#222222" stroke-width="1.8" filter="url(#b1)"/>
<path d="M501.6 378.8Q408.0 421.3 305.5 412.4" fill="none" stroke="#222222" stroke-width="1.8" filter="url(#b1)"/>
<path d="M504.2 385.6Q421.7 433.6 326.4 439.1" fill="none" stroke="#222222" stroke-width="1.8" filter="url(#b1)"/>
<path d="M505.8 393.5Q434.2 445.3 348.0 465.0" fill="none" stroke="#222222" stroke-width="1.8" filter="url(#b1)"/>
<path d="M508.5 400.6Q449.6 458.2 372.8 488.1" fill="none" stroke="#222222" stroke-width="1.8" filter="url(#b1)"/>
<path d="M511.3 409.5Q465.7 466.3 404.1 505.4" fill="none" stroke="#222222" stroke-width="1.8" filter="url(#b1)"/>
<path d="M514.3 416.6Q482.8 470.8 439.1 515.8" fill="none" stroke="#222222" stroke-width="1.8" filter="url(#b1)"/>
<path d="M516.9 424.0Q499.6 473.0 471.6 516.7" fill="none" stroke="#222222" stroke-width="1.8" filter="url(#b1)"/>
<path d="M311.5 369.0C298.6 377.1 305.6 371.8 303.4 386.0C301.2 400.2 298.6 395.7 305.0 411.7C311.4 427.7 310.4 418.0 322.6 434.0C334.8 450.0 327.9 444.7 341.7 459.6C355.5 474.5 351.2 466.6 364.0 478.7C376.8 490.8 364.0 485.9 380.0 495.8C396.0 505.7 385.4 499.4 412.0 508.5C438.6 517.6 435.1 520.5 459.8 523.0C484.5 525.5 470.9 522.7 486.0 516.0C501.1 509.3 495.3 515.0 505.0 503.0C514.7 491.0 509.0 497.0 515.0 480.0C521.0 463.0 515.7 469.7 523.0 452.0C530.3 434.3 529.3 443.0 537.0 427.0C544.7 411.0 545.0 419.7 546.0 404.0C547.0 388.3 555.3 394.7 540.0 380.0C524.7 365.3 526.8 373.3 500.0 360.0C473.2 346.7 481.5 346.7 459.5 340.0C437.5 333.3 451.0 338.0 434.0 340.0C417.0 342.0 425.5 342.2 408.5 346.0C391.5 349.8 398.3 348.8 383.0 351.5C367.7 354.2 376.2 350.6 362.5 354.0C348.8 357.4 359.0 356.7 342.0 361.7C325.0 366.7 324.4 360.9 311.5 369.0Z" fill="none" stroke="#7f7f7f" stroke-width="6" stroke-linecap="round" stroke-linejoin="round" filter="url(#b2)"/>
</g>
</g>
<!--/BRAIN-->


<!-- curved arrows -->
<g id="curves" fill="none">
<path d="M716 556 C 511.500 550.100 347.800 498 354.500 350" stroke="#c17f9f" stroke-width="9.800"/>
<path d="M354.500 340 L343 362 L366 362 Z" fill="#c17f9f"/>
<path d="M525.900 318 C 530.500 436 566.300 503.700 668.500 517.500" stroke="#ffd95b" stroke-width="11"/>
<path d="M693.500 518.500 L666.800 505.500 L666.800 530.300 Z" fill="#ffd95b"/>
</g>

<!--EARTH-->
<g id="earth">
<ellipse cx="786.5" cy="520.4" rx="82" ry="89.4" fill="url(#gE)"/>
<g clip-path="url(#cpE)">
<path d="M718.9 474.2C722.1 467.6 720.0 468.4 731.7 457.5C743.4 446.6 738.6 449.5 754.0 441.5C769.5 433.6 765.2 436.5 778.0 433.6C790.7 430.6 782.7 431.4 792.3 432.8C801.9 434.1 796.8 433.8 806.7 437.5C816.5 441.3 817.6 439.9 821.8 443.9C826.1 447.9 824.2 446.6 819.4 449.5C814.7 452.4 812.3 448.6 807.5 452.7C802.7 456.8 808.5 456.2 805.1 461.8C801.6 467.4 801.4 464.2 797.1 469.5C792.9 474.7 793.1 470.5 792.3 477.4C791.5 484.3 793.1 481.7 794.7 490.2C796.3 498.7 798.4 494.5 797.1 503.0C795.8 511.5 797.1 509.3 790.7 515.7C784.3 522.1 786.5 522.1 778.0 522.1C769.5 522.1 772.1 522.1 765.2 515.7C758.3 509.3 761.5 512.0 757.2 503.0C753.0 493.9 755.6 498.2 752.4 488.6C749.2 479.0 754.0 479.6 747.6 474.2C741.3 468.9 741.8 471.6 733.3 472.6C724.8 473.7 726.9 476.9 722.1 477.4C717.3 478.0 715.7 480.9 718.9 474.2Z" fill="#7d675f" filter="url(#eb1)"/>
<path d="M720.5 473.4C720.0 469.5 721.9 467.9 733.3 457.5C744.7 447.1 739.9 449.9 754.8 442.3C769.7 434.7 768.1 435.7 778.0 434.7C787.8 433.6 780.1 433.4 784.3 439.1C788.6 444.9 790.7 444.5 790.7 451.9C790.7 459.4 791.3 456.7 784.3 461.5C777.4 466.3 780.6 464.1 770.0 466.3C759.3 468.4 764.1 466.8 752.4 467.9C740.7 468.9 745.5 467.6 734.9 469.5C724.2 471.3 721.1 477.4 720.5 473.4Z" fill="#a8857a" filter="url(#eb1)"/>
<path d="M786.7 434.0C792.6 432.0 795.1 434.5 806.7 437.9C818.2 441.3 817.2 440.5 821.4 444.3C825.5 448.0 823.7 446.5 819.1 449.0C814.5 451.6 815.3 451.2 807.5 451.9C799.6 452.6 801.6 453.8 795.5 451.1C789.4 448.5 792.1 449.6 789.1 443.9C786.2 438.2 780.9 436.1 786.7 434.0Z" fill="#b08f84" filter="url(#eb1)"/>
<path d="M784.3 459.9C791.3 455.4 798.2 453.7 805.1 454.3C812.0 454.9 807.7 456.7 805.1 461.8C802.4 466.9 801.9 465.8 797.1 469.5C792.3 473.1 795.0 473.2 790.7 472.6C786.5 472.1 786.5 472.1 784.3 467.9C782.2 463.6 777.4 464.4 784.3 459.9Z" fill="#94786c" filter="url(#eb1)"/>
<path d="M778.8 441.5L786.7 450.3L793.1 454.3L813.9 447.9" stroke="#2a1c28" stroke-width="1.4" stroke-opacity="0.85" fill="none" stroke-linejoin="round" filter="url(#eb05)"/>
<path d="M750.8 477.4C762.0 468.4 775.8 471.1 790.7 475.8C805.6 480.6 793.4 482.8 795.5 491.8C797.6 500.8 798.7 495.0 797.1 503.0C795.5 510.9 797.1 509.3 790.7 515.7C784.3 522.1 786.5 522.1 778.0 522.1C769.5 522.1 772.1 522.1 765.2 515.7C758.3 509.3 762.0 515.7 757.2 503.0C752.4 490.2 739.7 486.5 750.8 477.4Z" fill="#55574e" filter="url(#eb3)"/>
<ellipse cx="763.6" cy="514.1" rx="9" ry="7" fill="#8a6654" filter="url(#eb1)"/>
<ellipse cx="799.5" cy="503.0" rx="3.2" ry="8.500" fill="#6a6a58" transform="rotate(12 799.5 503.0)" filter="url(#eb1)"/>
<ellipse cx="786.4" cy="596.7" rx="60" ry="22" fill="#dfe2f2" filter="url(#eb3)"/>
<g id="cmapS" filter="url(#cloudS)" opacity="0.7">
<rect x="690" y="420" width="200" height="200" fill="#000"/>
<ellipse cx="786.5" cy="520.4" rx="82" ry="89.4" fill="#787878"/>
<ellipse cx="833.3" cy="494.7" rx="26" ry="30" fill="#1f1f1f" filter="url(#eb6)"/>
<ellipse cx="727.3" cy="503.8" rx="16" ry="20" fill="#262626" filter="url(#eb6)"/>
<ellipse cx="775.8" cy="564.4" rx="18" ry="10" fill="#262626" filter="url(#eb3)"/>
<ellipse cx="827.3" cy="567.4" rx="14" ry="12" fill="#333333" filter="url(#eb3)"/>
<ellipse cx="757.6" cy="458.3" rx="30" ry="12" fill="#1a1a1a" filter="url(#eb3)" transform="rotate(-25 757.6 458.3)"/>
<ellipse cx="806.1" cy="449.2" rx="18" ry="9" fill="#141414" filter="url(#eb3)"/>
<ellipse cx="790.9" cy="562.9" rx="58" ry="24" fill="#a8a8a8" filter="url(#eb6)"/>
<ellipse cx="745.5" cy="558.3" rx="22" ry="22" fill="#b2b2b2" filter="url(#eb3)"/>
<ellipse cx="830.3" cy="546.2" rx="22" ry="30" fill="#999999" filter="url(#eb6)"/>
<ellipse cx="771.2" cy="490.2" rx="34" ry="16" fill="#a8a8a8" filter="url(#eb3)"/>
<ellipse cx="769.7" cy="500.8" rx="14" ry="12" fill="#8c8c8c" filter="url(#eb3)"/>
<ellipse cx="739.4" cy="485.6" rx="14" ry="7" fill="#8c8c8c" filter="url(#eb3)" transform="rotate(20 739.4 485.6)"/>
<ellipse cx="787.9" cy="541.7" rx="13" ry="11" fill="#ffffff" filter="url(#eb3)"/>
<path d="M769.7 525.0C765.7 529.0 759.1 527.0 757.6 537.1C756.1 547.2 755.1 547.2 765.2 555.3C775.3 563.4 773.2 561.4 787.9 561.4C802.5 561.4 802.0 557.3 809.1 555.3" fill="none" stroke="#b2b2b2" stroke-width="9" stroke-linecap="round" filter="url(#eb3)"/>
<path d="M800.0 525.0C805.1 523.0 804.0 518.9 815.2 518.9C826.3 518.9 824.2 517.9 833.3 525.0C842.4 532.1 839.9 528.0 842.4 540.2C844.9 552.3 844.9 549.2 840.9 561.4C836.9 573.5 833.8 571.5 830.3 576.5" fill="none" stroke="#9e9e9e" stroke-width="8" stroke-linecap="round" filter="url(#eb3)"/>
<path d="M718.2 525.0C723.2 527.0 722.2 530.1 733.3 531.1C744.4 532.1 745.5 529.0 751.5 528.0" fill="none" stroke="#8c8c8c" stroke-width="6" stroke-linecap="round" filter="url(#eb3)"/>
<path d="M736.4 549.2C733.3 552.3 728.3 551.3 727.3 558.3C726.3 565.4 726.3 566.4 733.3 570.5C740.4 574.5 741.9 574.5 748.5 570.5C755.1 566.4 754.5 563.9 753.0 558.3C751.5 552.8 747.0 555.3 743.9 553.8" fill="none" stroke="#b8b8b8" stroke-width="7" stroke-linecap="round" filter="url(#eb3)"/>
<path d="M815.2 467.4C820.2 469.4 821.2 472.5 830.3 473.5C839.4 474.5 838.4 471.5 842.4 470.5" fill="none" stroke="#808080" stroke-width="5" stroke-linecap="round" filter="url(#eb3)"/>
<path d="M736.4 573.5C744.4 574.5 742.4 576.5 760.6 576.5C778.8 576.5 770.7 573.5 790.9 573.5C811.1 573.5 806.1 577.5 821.2 576.5C836.4 575.5 831.3 572.5 836.4 570.5" fill="none" stroke="#999999" stroke-width="9" stroke-linecap="round" filter="url(#eb3)"/>
<path d="M806.1 500.8C811.1 502.8 815.2 501.8 821.2 506.8C827.3 511.9 823.2 512.9 824.2 515.9" fill="none" stroke="#808080" stroke-width="5" stroke-linecap="round" filter="url(#eb3)"/>
<ellipse cx="851.5" cy="515.9" rx="8" ry="30" fill="#737373" filter="url(#eb3)"/>
</g>
<g filter="url(#cloud)">
<rect x="690" y="420" width="200" height="200" fill="#000"/>
<ellipse cx="786.5" cy="520.4" rx="82" ry="89.4" fill="#787878"/>
<ellipse cx="833.3" cy="494.7" rx="26" ry="30" fill="#1f1f1f" filter="url(#eb6)"/>
<ellipse cx="727.3" cy="503.8" rx="16" ry="20" fill="#262626" filter="url(#eb6)"/>
<ellipse cx="775.8" cy="564.4" rx="18" ry="10" fill="#262626" filter="url(#eb3)"/>
<ellipse cx="827.3" cy="567.4" rx="14" ry="12" fill="#333333" filter="url(#eb3)"/>
<ellipse cx="757.6" cy="458.3" rx="30" ry="12" fill="#1a1a1a" filter="url(#eb3)" transform="rotate(-25 757.6 458.3)"/>
<ellipse cx="806.1" cy="449.2" rx="18" ry="9" fill="#141414" filter="url(#eb3)"/>
<ellipse cx="790.9" cy="562.9" rx="58" ry="24" fill="#a8a8a8" filter="url(#eb6)"/>
<ellipse cx="745.5" cy="558.3" rx="22" ry="22" fill="#b2b2b2" filter="url(#eb3)"/>
<ellipse cx="830.3" cy="546.2" rx="22" ry="30" fill="#999999" filter="url(#eb6)"/>
<ellipse cx="771.2" cy="490.2" rx="34" ry="16" fill="#a8a8a8" filter="url(#eb3)"/>
<ellipse cx="769.7" cy="500.8" rx="14" ry="12" fill="#8c8c8c" filter="url(#eb3)"/>
<ellipse cx="739.4" cy="485.6" rx="14" ry="7" fill="#8c8c8c" filter="url(#eb3)" transform="rotate(20 739.4 485.6)"/>
<ellipse cx="787.9" cy="541.7" rx="13" ry="11" fill="#ffffff" filter="url(#eb3)"/>
<path d="M769.7 525.0C765.7 529.0 759.1 527.0 757.6 537.1C756.1 547.2 755.1 547.2 765.2 555.3C775.3 563.4 773.2 561.4 787.9 561.4C802.5 561.4 802.0 557.3 809.1 555.3" fill="none" stroke="#b2b2b2" stroke-width="9" stroke-linecap="round" filter="url(#eb3)"/>
<path d="M800.0 525.0C805.1 523.0 804.0 518.9 815.2 518.9C826.3 518.9 824.2 517.9 833.3 525.0C842.4 532.1 839.9 528.0 842.4 540.2C844.9 552.3 844.9 549.2 840.9 561.4C836.9 573.5 833.8 571.5 830.3 576.5" fill="none" stroke="#9e9e9e" stroke-width="8" stroke-linecap="round" filter="url(#eb3)"/>
<path d="M718.2 525.0C723.2 527.0 722.2 530.1 733.3 531.1C744.4 532.1 745.5 529.0 751.5 528.0" fill="none" stroke="#8c8c8c" stroke-width="6" stroke-linecap="round" filter="url(#eb3)"/>
<path d="M736.4 549.2C733.3 552.3 728.3 551.3 727.3 558.3C726.3 565.4 726.3 566.4 733.3 570.5C740.4 574.5 741.9 574.5 748.5 570.5C755.1 566.4 754.5 563.9 753.0 558.3C751.5 552.8 747.0 555.3 743.9 553.8" fill="none" stroke="#b8b8b8" stroke-width="7" stroke-linecap="round" filter="url(#eb3)"/>
<path d="M815.2 467.4C820.2 469.4 821.2 472.5 830.3 473.5C839.4 474.5 838.4 471.5 842.4 470.5" fill="none" stroke="#808080" stroke-width="5" stroke-linecap="round" filter="url(#eb3)"/>
<path d="M736.4 573.5C744.4 574.5 742.4 576.5 760.6 576.5C778.8 576.5 770.7 573.5 790.9 573.5C811.1 573.5 806.1 577.5 821.2 576.5C836.4 575.5 831.3 572.5 836.4 570.5" fill="none" stroke="#999999" stroke-width="9" stroke-linecap="round" filter="url(#eb3)"/>
<path d="M806.1 500.8C811.1 502.8 815.2 501.8 821.2 506.8C827.3 511.9 823.2 512.9 824.2 515.9" fill="none" stroke="#808080" stroke-width="5" stroke-linecap="round" filter="url(#eb3)"/>
<ellipse cx="851.5" cy="515.9" rx="8" ry="30" fill="#737373" filter="url(#eb3)"/>
</g>
<ellipse cx="786.5" cy="520.4" rx="80.5" ry="87.9" fill="none" stroke="#8f96c6" stroke-width="3" stroke-opacity="0.45" filter="url(#eb1)"/>
</g>
</g>
<!--/EARTH-->

<g id="digits" fill="#585858" font-size="19"><text x="606.800" y="223">9</text><text x="584.500" y="302" font-size="18">6</text></g>
<!-- blue arrows -->
<g id="blue" stroke="#3465a4" stroke-width="4.6" fill="#3465a4">
<line x1="489.0" y1="63.0" x2="407.2" y2="168.5"/>
<path d="M395.2 183.9L402.2 163.4L413.3 172.0Z" stroke="none"/>
<line x1="534.6" y1="80.0" x2="522.0" y2="228.6"/>
<path d="M520.3 248.0L515.1 227.0L529.0 228.2Z" stroke="none"/>
<line x1="630.5" y1="80.0" x2="663.6" y2="252.4"/>
<path d="M667.3 271.5L656.6 252.7L670.3 250.0Z" stroke="none"/>
<line x1="680.5" y1="59.0" x2="729.0" y2="103.8"/>
<path d="M743.3 117.0L723.5 108.2L733.0 97.9Z" stroke="none"/>
</g>








<!-- nodes -->
<g id="nodes" stroke="#3465a4" stroke-width="1">
<ellipse cx="592.300" cy="60.300" rx="127.700" ry="35.700" fill="#729fcf"/>
<ellipse cx="545.300" cy="143.200" rx="81.200" ry="41.700" fill="#ea7500"/>
<ellipse cx="749.500" cy="176" rx="120.500" ry="60" fill="#77bc65"/>
<ellipse cx="354" cy="257.300" rx="93.300" ry="81.300" fill="#bf819e"/>
<ellipse cx="526.200" cy="283.500" rx="52.500" ry="39" fill="#ffd428"/>
<ellipse cx="664" cy="339.500" rx="92" ry="70.500" fill="#ffa2a2" stroke="none"/>
<ellipse cx="670" cy="300" rx="46.400" ry="25.200" fill="#ff6d6d" stroke="none"/>
<ellipse cx="635.500" cy="358.500" rx="59.300" ry="32.500" fill="#f80404" stroke="none"/>
</g>











<g id="purple" stroke="#800080" stroke-width="5" fill="#800080">
<line x1="435.5" y1="217.5" x2="613.3" y2="194.5"/>
<path d="M632.6 192.0L613.2 201.6L611.4 187.7Z" stroke="none"/>
<line x1="563.5" y1="255.8" x2="632.0" y2="219.0"/>
<path d="M649.2 209.8L634.4 225.7L627.8 213.3Z" stroke="none"/>
<line x1="447.0" y1="253.6" x2="468.1" y2="260.7"/>
<path d="M486.6 266.9L464.9 267.0L469.4 253.7Z" stroke="none"/>
<line x1="428.5" y1="307.0" x2="553.4" y2="345.6"/>
<path d="M572.0 351.4L550.3 352.0L554.5 338.7Z" stroke="none"/>
<line x1="745.8" y1="235.5" x2="737.6" y2="270.8"/>
<path d="M733.2 289.8L731.0 268.2L744.7 271.4Z" stroke="none"/>
<line x1="610" y1="154.8" x2="670.2" y2="154.8"/>
<path d="M594 154.8L611 147.8L611 161.8Z" stroke="none"/>
<path d="M686.2 154.8L669.2 147.8L669.2 161.8Z" stroke="none"/>
</g>

<!-- labels -->
<g id="labels" fill="#000">
<text x="499" y="73.200" font-size="35">configurator</text>
<text x="544" y="138.500" font-size="21.900" text-anchor="middle" fill="#2a1200">Short-term</text>
<text x="544.400" y="162.200" font-size="22" text-anchor="middle" fill="#2a1200">memory</text>
<text x="652.100" y="187.600" font-size="35">World Model</text>
<text x="270" y="269.900" font-size="35">Perception</text>
<text x="485.200" y="295.700" font-size="35">Actor</text>
<text x="639.900" y="308.900" font-size="26.200">Critic</text>
<text x="695.900" y="346.900" font-size="26.200">Cost</text>
<text x="634.200" y="353.100" font-size="23.350" text-anchor="middle" fill="#300000">Intrinsic</text>
<text x="634.500" y="379.300" font-size="23.500" text-anchor="middle" fill="#300000">cost</text>
<text x="589.600" y="476.900" font-size="35">action</text>
<text x="572.600" y="589.900" font-size="35">percept</text>
</g>
</svg>
</body>
</html>
